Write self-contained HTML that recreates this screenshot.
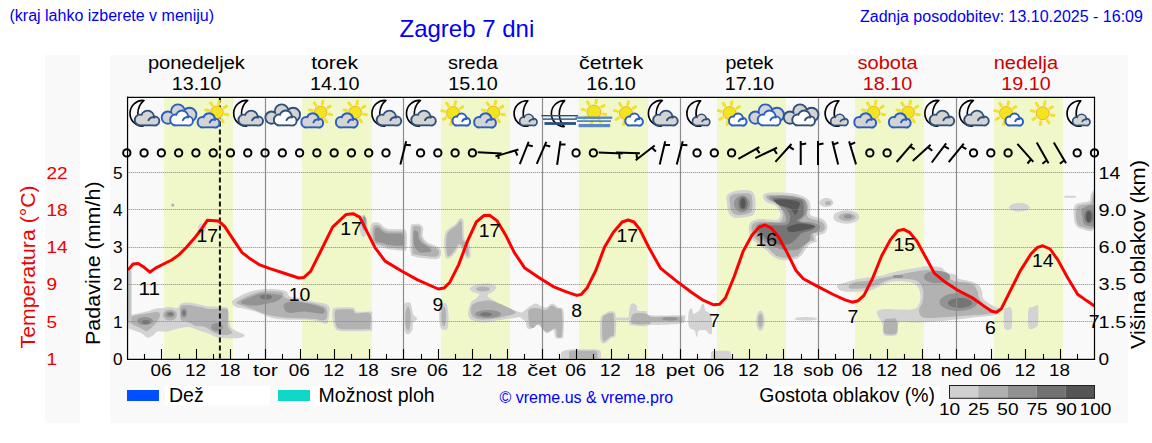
<!DOCTYPE html>
<html><head><meta charset="utf-8"><style>
html,body{margin:0;padding:0;background:#fff;width:1152px;height:443px;overflow:hidden}
svg{display:block}
text{font-family:"Liberation Sans", sans-serif}
</style></head><body>
<svg width="1152" height="443" viewBox="0 0 1152 443">
<rect x="45" y="55" width="35" height="368" fill="#f9f9f9"/>
<rect x="110" y="55" width="1018" height="368" fill="#f9f9f9"/>
<rect x="126" y="95.8" width="970.2" height="265.4" fill="#fff"/>
<rect x="129.3" y="99.1" width="963.5" height="258.6" fill="#f9f9fa"/>
<rect x="164" y="98.1" width="69" height="260.6" fill="#f0f7c8"/>
<rect x="302" y="98.1" width="70" height="260.6" fill="#f0f7c8"/>
<rect x="441" y="98.1" width="69" height="260.6" fill="#f0f7c8"/>
<rect x="579" y="98.1" width="69" height="260.6" fill="#f0f7c8"/>
<rect x="717" y="98.1" width="69" height="260.6" fill="#f0f7c8"/>
<rect x="855" y="98.1" width="69" height="260.6" fill="#f0f7c8"/>
<rect x="994" y="98.1" width="69" height="260.6" fill="#f0f7c8"/>
<defs><filter id="bl" x="-5%" y="-5%" width="110%" height="110%"><feGaussianBlur stdDeviation="0.7"/></filter><clipPath id="pc"><rect x="127.3" y="97" width="967.2" height="261.6"/></clipPath></defs><g filter="url(#bl)" clip-path="url(#pc)"><path d="M128.8 315.2C129.7 312.9 131.2 314.9 134.2 314.3C137.2 313.7 143.6 312.5 146.9 311.6C150.2 310.7 151.4 309.5 154.1 308.9C156.8 308.3 160.4 308.3 163.1 308.0C165.8 307.7 167.9 307.1 170.3 307.1C172.7 307.1 175.8 308.6 177.6 308.0C179.4 307.4 179.4 304.4 181.2 303.5C183.0 302.6 185.4 302.5 188.4 302.6C191.4 302.8 195.9 303.8 199.2 304.4C202.5 305.0 204.1 305.8 208.3 306.2C212.5 306.6 221.2 306.5 224.5 307.1C227.8 307.7 227.2 306.8 228.1 309.8C229.0 312.8 228.7 321.6 229.9 325.1C231.1 328.6 233.0 328.9 235.4 330.6C237.8 332.3 243.8 333.9 244.4 335.1C245.0 336.4 243.2 337.7 239.0 338.1C234.8 338.6 223.9 338.5 219.1 337.8C214.3 337.1 213.4 335.4 210.1 334.2C206.8 333.0 202.8 331.8 199.2 330.6C195.6 329.4 192.0 327.3 188.4 327.0C184.8 326.7 181.2 328.1 177.6 328.8C174.0 329.6 170.0 331.1 166.7 331.5C163.4 331.9 160.1 330.8 157.7 331.5C155.3 332.2 154.1 335.0 152.3 336.0C150.5 337.0 148.7 337.8 146.9 337.4C145.1 336.9 143.8 334.6 141.4 333.3C139.0 332.0 134.5 330.6 132.4 329.7C130.3 328.8 129.4 330.3 128.8 327.9C128.2 325.5 127.9 317.5 128.8 315.2Z" fill="#d3d3d3"/>
<path d="M128.8 318.0C130.2 316.8 133.5 315.8 137.0 315.0C140.5 314.2 146.5 313.5 150.0 313.0C153.5 312.5 156.3 311.5 158.0 312.0C159.7 312.5 160.3 314.2 160.0 316.0C159.7 317.8 157.7 320.8 156.0 323.0C154.3 325.2 151.7 327.7 150.0 329.0C148.3 330.3 147.7 331.2 146.0 331.0C144.3 330.8 142.3 329.2 140.0 328.0C137.7 326.8 133.9 325.0 132.0 324.0C130.1 323.0 129.3 323.0 128.8 322.0C128.3 321.0 127.4 319.2 128.8 318.0Z" fill="#b2b2b2"/>
<ellipse cx="170" cy="315" rx="7" ry="5.5" fill="#b2b2b2"/>
<path d="M181.0 306.0C182.3 304.8 184.8 304.8 188.0 305.0C191.2 305.2 196.3 306.3 200.0 307.0C203.7 307.7 205.7 308.7 210.0 309.0C214.3 309.3 223.0 308.3 226.0 309.0C229.0 309.7 227.7 310.2 228.0 313.0C228.3 315.8 227.3 322.7 228.0 326.0C228.7 329.3 232.7 331.5 232.0 333.0C231.3 334.5 226.8 335.0 224.0 335.0C221.2 335.0 218.2 334.3 215.0 333.0C211.8 331.7 208.2 328.2 205.0 327.0C201.8 325.8 198.8 326.8 196.0 326.0C193.2 325.2 190.5 323.0 188.0 322.0C185.5 321.0 182.3 321.7 181.0 320.0C179.7 318.3 180.0 314.3 180.0 312.0C180.0 309.7 179.7 307.2 181.0 306.0Z" fill="#b2b2b2"/>
<ellipse cx="145" cy="321" rx="8" ry="4" fill="#939393"/>
<ellipse cx="170" cy="314.5" rx="4.5" ry="3" fill="#939393"/>
<ellipse cx="184" cy="313" rx="3" ry="4.5" fill="#939393"/>
<ellipse cx="217" cy="327" rx="6" ry="4" fill="#939393"/>
<ellipse cx="146" cy="322" rx="4" ry="2" fill="#747474"/>
<ellipse cx="170.5" cy="314" rx="2.5" ry="1.5" fill="#747474"/>
<ellipse cx="184" cy="313" rx="1.5" ry="2.5" fill="#747474"/>
<ellipse cx="172.8" cy="205.1" rx="1.6" ry="1.6" fill="#b2b2b2"/>
<ellipse cx="202" cy="228" rx="4" ry="4.5" fill="#d3d3d3"/>
<rect x="128" y="270.5" width="3.5" height="52" fill="#c4c4c4"/>
<path d="M232.1 301.5C232.8 299.8 236.0 298.1 239.2 296.4C242.4 294.7 247.3 292.5 251.4 291.3C255.5 290.1 259.4 289.6 263.5 289.3C267.6 289.0 272.0 289.0 275.7 289.3C279.4 289.6 283.5 290.1 285.9 291.3C288.3 292.5 287.3 295.2 290.0 296.4C292.7 297.6 298.4 297.5 302.1 298.4C305.8 299.2 308.6 300.6 312.3 301.5C316.0 302.4 321.6 302.5 324.5 303.5C327.4 304.5 328.8 305.1 329.5 307.6C330.2 310.1 329.0 316.0 328.5 318.7C328.0 321.4 328.5 323.4 326.5 323.8C324.5 324.2 320.0 321.5 316.3 320.8C312.6 320.1 308.9 319.9 304.2 319.7C299.5 319.5 292.6 319.9 287.9 319.7C283.1 319.5 279.4 319.4 275.7 318.7C272.0 318.0 269.0 316.9 265.6 315.7C262.2 314.5 259.1 312.8 255.4 311.6C251.7 310.4 246.6 309.5 243.2 308.6C239.8 307.8 236.9 307.7 235.1 306.5C233.2 305.3 231.4 303.2 232.1 301.5Z" fill="#d3d3d3"/>
<path d="M237.2 301.5C239.2 299.8 246.7 296.1 251.4 294.4C256.1 292.7 260.5 291.6 265.6 291.3C270.7 291.0 278.6 291.3 281.8 292.3C285.0 293.3 282.2 296.0 284.9 297.4C287.6 298.8 292.5 299.3 298.1 300.5C303.7 301.7 313.7 303.1 318.4 304.5C323.1 305.9 325.3 306.1 326.5 308.6C327.7 311.1 327.9 318.0 325.5 319.7C323.1 321.4 318.6 319.0 312.3 318.7C306.0 318.4 295.3 318.4 287.9 317.7C280.4 317.0 273.7 316.2 267.6 314.7C261.5 313.2 256.1 310.3 251.4 308.6C246.7 306.9 241.6 305.7 239.2 304.5C236.8 303.3 235.2 303.2 237.2 301.5Z" fill="#b2b2b2"/>
<path d="M241.2 301.5C243.2 299.8 253.1 295.8 257.5 294.4C261.9 293.0 263.6 293.2 267.6 293.4C271.7 293.6 280.1 294.2 281.8 295.4C283.5 296.6 280.2 299.1 277.8 300.5C275.4 301.9 271.3 302.7 267.6 303.5C263.9 304.3 259.1 305.3 255.4 305.5C251.7 305.7 247.7 305.2 245.3 304.5C242.9 303.8 239.2 303.2 241.2 301.5Z" fill="#939393"/>
<path d="M283.9 304.5C284.9 302.6 289.3 301.5 294.0 301.5C298.7 301.5 307.4 303.3 312.3 304.5C317.2 305.7 321.7 307.1 323.4 308.6C325.1 310.1 325.6 313.2 322.4 313.7C319.2 314.2 309.9 311.8 304.2 311.6C298.4 311.4 291.3 313.8 287.9 312.6C284.5 311.4 282.9 306.4 283.9 304.5Z" fill="#939393"/>
<ellipse cx="266" cy="297" rx="6" ry="2.5" fill="#747474"/>
<path d="M332.6 309.6C333.5 307.8 334.3 307.9 337.7 307.6C341.1 307.3 349.7 306.9 352.9 307.6C356.1 308.3 353.9 310.9 357.0 311.6C360.1 312.3 368.7 311.1 371.2 311.6C373.7 312.1 372.0 312.0 372.2 314.7C372.4 317.4 372.7 325.2 372.2 327.9C371.7 330.6 374.4 330.4 369.1 330.9C363.9 331.4 346.4 331.6 340.7 330.9C334.9 330.2 336.0 328.9 334.6 326.9C333.2 324.9 332.9 321.6 332.6 318.7C332.3 315.8 331.8 311.5 332.6 309.6Z" fill="#d3d3d3"/>
<path d="M335.0 311.5C335.6 310.0 335.7 309.9 338.5 309.6C341.3 309.3 349.1 309.0 352.0 309.6C354.9 310.2 353.0 312.9 356.0 313.5C359.0 314.1 367.6 311.2 370.0 313.5C372.4 315.8 370.6 324.4 370.3 327.0C370.0 329.6 372.8 328.7 368.0 329.0C363.2 329.3 346.8 329.5 341.5 329.0C336.2 328.5 337.6 327.7 336.5 326.0C335.4 324.3 335.2 321.1 335.0 318.7C334.8 316.3 334.4 313.0 335.0 311.5Z" fill="#b2b2b2"/>
<ellipse cx="363.5" cy="226" rx="4" ry="11.3" fill="#d3d3d3"/>
<ellipse cx="364" cy="223" rx="2.5" ry="7.5" fill="#b2b2b2"/>
<ellipse cx="364.3" cy="222" rx="1.4" ry="5" fill="#939393"/>
<path d="M371.0 225.2C372.2 221.9 375.9 222.2 378.1 222.6C380.3 222.9 382.2 226.2 384.2 227.3C386.2 228.4 387.2 229.0 390.3 229.3C393.4 229.6 399.8 228.8 402.5 229.3C405.2 229.8 405.8 229.1 406.5 232.3C407.2 235.5 407.0 245.6 406.5 248.6C406.0 251.6 406.2 250.4 403.5 250.6C400.8 250.8 393.9 250.1 390.3 249.6C386.8 249.1 384.9 248.3 382.2 247.6C379.5 246.9 376.0 246.3 374.1 245.5C372.2 244.7 371.5 245.9 371.0 242.5C370.5 239.1 369.8 228.5 371.0 225.2Z" fill="#d3d3d3"/>
<path d="M373.0 227.5C373.8 224.8 376.2 224.7 378.0 225.0C379.8 225.3 381.5 228.4 383.5 229.5C385.5 230.6 386.9 231.2 390.0 231.5C393.1 231.8 399.6 231.2 402.0 231.5C404.4 231.8 404.1 230.9 404.5 233.5C404.9 236.1 404.8 244.5 404.5 247.0C404.2 249.5 404.9 248.4 402.5 248.5C400.1 248.6 393.3 248.0 390.0 247.5C386.7 247.0 385.0 246.2 382.5 245.5C380.0 244.8 376.6 244.2 375.0 243.5C373.4 242.8 373.3 243.7 373.0 241.0C372.7 238.3 372.2 230.2 373.0 227.5Z" fill="#b2b2b2"/>
<path d="M375.0 229.5C375.5 227.6 376.7 227.2 378.0 227.5C379.3 227.8 381.2 230.5 383.0 231.5C384.8 232.5 386.0 233.2 389.0 233.5C392.0 233.8 398.8 233.2 401.0 233.5C403.2 233.8 402.2 233.1 402.5 235.0C402.8 236.9 404.6 243.3 402.5 245.0C400.4 246.7 393.3 245.3 390.0 245.0C386.7 244.7 384.8 243.6 382.5 243.0C380.2 242.4 377.2 242.2 376.0 241.5C374.8 240.8 375.2 241.0 375.0 239.0C374.8 237.0 374.5 231.4 375.0 229.5Z" fill="#939393"/>
<path d="M410.6 227.3C411.1 222.6 412.2 224.7 413.7 224.2C415.2 223.7 418.1 223.5 419.7 224.2C421.3 224.9 422.7 226.3 423.2 228.3C423.7 230.3 422.0 234.0 422.8 236.4C423.6 238.8 425.2 240.6 427.9 242.5C430.6 244.4 436.8 245.7 439.0 247.6C441.2 249.5 441.3 251.8 441.1 253.7C440.9 255.5 440.0 257.9 438.0 258.7C436.0 259.5 432.8 259.0 428.9 258.7C425.0 258.4 417.8 257.7 414.7 256.7C411.6 255.7 411.3 257.5 410.6 252.6C409.9 247.7 410.1 232.0 410.6 227.3Z" fill="#d3d3d3"/>
<path d="M412.6 228.5C412.9 224.3 413.4 226.7 414.5 226.3C415.6 225.9 417.9 225.9 419.0 226.3C420.1 226.8 420.7 227.2 421.0 229.0C421.3 230.8 419.9 234.5 420.8 237.0C421.7 239.5 423.7 242.0 426.5 244.0C429.3 246.0 435.4 247.4 437.5 249.0C439.6 250.6 439.2 252.4 439.0 253.7C438.8 254.9 438.2 256.0 436.5 256.5C434.8 257.0 432.5 256.8 429.0 256.5C425.5 256.2 418.2 255.3 415.5 254.5C412.8 253.7 413.1 255.8 412.6 251.5C412.1 247.2 412.3 232.7 412.6 228.5Z" fill="#b2b2b2"/>
<path d="M413.7 231.3C414.4 229.6 417.0 230.5 418.0 232.0C419.0 233.5 417.9 237.9 419.7 240.5C421.5 243.1 427.0 245.8 428.9 247.6C430.8 249.4 432.2 250.8 430.9 251.6C429.5 252.4 423.3 253.1 420.8 252.6C418.3 252.1 416.9 250.3 415.7 248.6C414.5 246.9 414.0 245.4 413.7 242.5C413.4 239.6 413.0 233.1 413.7 231.3Z" fill="#939393"/>
<path d="M445.1 233.4C446.8 228.2 452.9 226.6 455.3 224.2C457.7 221.8 458.0 219.8 459.3 219.1C460.6 218.4 462.5 217.0 463.4 220.2C464.2 223.4 463.4 234.5 464.4 238.4C465.4 242.3 468.5 240.4 469.5 243.5C470.5 246.6 471.0 254.3 470.5 256.7C470.0 259.1 467.8 258.7 466.4 257.7C465.0 256.7 463.6 252.5 462.4 250.6C461.2 248.7 460.5 246.2 459.3 246.5C458.1 246.8 456.8 250.7 455.3 252.6C453.8 254.5 451.9 257.2 450.2 257.7C448.5 258.2 446.0 259.8 445.1 255.7C444.2 251.6 443.4 238.7 445.1 233.4Z" fill="#d3d3d3"/>
<path d="M447.0 234.5C448.6 229.8 454.4 227.7 456.5 225.5C458.6 223.3 458.6 222.0 459.5 221.5C460.4 221.0 461.3 219.6 461.8 222.5C462.3 225.4 461.5 235.3 462.5 239.0C463.5 242.7 466.8 241.8 467.8 244.5C468.8 247.2 468.7 253.2 468.5 255.0C468.3 256.8 467.6 256.5 466.8 255.5C466.0 254.5 464.8 250.9 463.5 249.0C462.2 247.1 460.8 243.8 459.3 244.0C457.8 244.2 456.1 248.6 454.5 250.5C452.9 252.4 451.2 254.9 450.0 255.5C448.8 256.1 447.5 257.5 447.0 254.0C446.5 250.5 445.4 239.2 447.0 234.5Z" fill="#b2b2b2"/>
<path d="M404.3 305.3C404.8 301.6 405.9 302.9 407.0 302.6C408.1 302.3 409.6 301.6 410.6 303.5C411.7 305.4 412.2 311.8 413.3 314.3C414.4 316.9 417.3 317.5 417.3 318.8C417.3 320.1 414.1 320.6 413.3 322.4C412.5 324.2 413.1 327.7 412.4 329.7C411.6 331.7 410.0 333.8 408.8 334.2C407.6 334.6 405.9 333.9 405.2 332.4C404.4 330.9 404.4 329.6 404.3 325.1C404.2 320.6 403.9 309.1 404.3 305.3Z" fill="#d3d3d3"/>
<ellipse cx="408" cy="318.5" rx="2.8" ry="12" fill="#b2b2b2"/>
<path d="M439.5 305.3C439.9 302.3 441.0 303.6 442.2 303.5C443.4 303.4 445.6 302.3 446.7 304.4C447.8 306.5 448.4 312.2 448.6 316.1C448.8 320.0 448.3 325.6 447.7 327.9C447.1 330.2 446.0 329.5 444.9 329.7C443.8 329.9 442.2 330.2 441.3 328.8C440.4 327.4 439.8 325.4 439.5 321.5C439.2 317.6 439.1 308.3 439.5 305.3Z" fill="#d3d3d3"/>
<ellipse cx="443.7" cy="316.5" rx="2.5" ry="10" fill="#b2b2b2"/>
<path d="M470.0 288.0C470.8 286.8 473.8 285.2 477.0 284.5C480.2 283.8 485.8 283.2 489.0 283.6C492.2 284.1 495.8 285.9 496.4 287.2C497.0 288.5 494.2 290.5 492.8 291.7C491.4 292.9 488.6 293.4 488.0 294.4C487.4 295.4 487.6 296.3 489.0 297.5C490.4 298.7 492.8 299.8 496.4 301.7C500.0 303.6 506.4 306.9 510.9 308.9C515.4 310.8 521.2 312.2 523.5 313.4C525.8 314.6 525.9 315.4 524.4 316.1C522.9 316.9 519.2 317.1 514.5 317.9C509.8 318.6 501.2 319.9 496.4 320.6C491.6 321.4 488.9 322.2 485.6 322.4C482.3 322.5 479.2 322.2 476.5 321.5C473.8 320.8 470.7 319.5 469.3 317.9C467.9 316.2 468.1 314.2 468.4 311.6C468.7 309.0 469.8 304.2 471.1 302.0C472.4 299.8 474.7 299.8 476.0 298.5C477.3 297.2 479.7 295.6 479.0 294.4C478.3 293.2 473.5 292.6 472.0 291.5C470.5 290.4 469.2 289.2 470.0 288.0Z" fill="#d3d3d3"/>
<path d="M472.0 305.0C473.5 303.1 477.0 302.2 480.0 301.5C483.0 300.8 486.7 300.1 490.0 300.5C493.3 300.9 496.3 302.5 500.0 304.0C503.7 305.5 509.5 307.9 512.0 309.5C514.5 311.1 517.0 312.2 515.0 313.5C513.0 314.8 504.8 316.5 500.0 317.5C495.2 318.5 490.2 319.4 486.0 319.5C481.8 319.6 477.5 319.1 475.0 318.0C472.5 316.9 471.5 315.2 471.0 313.0C470.5 310.8 470.5 306.9 472.0 305.0Z" fill="#b2b2b2"/>
<ellipse cx="482.9" cy="289" rx="7" ry="2.5" fill="#b2b2b2"/>
<ellipse cx="488" cy="314" rx="13" ry="4" fill="#939393"/>
<ellipse cx="486" cy="314.3" rx="6" ry="2" fill="#747474"/>
<path d="M520.0 314.5C520.6 313.2 523.1 311.8 524.7 310.5C526.3 309.2 527.6 307.8 529.5 306.6C531.4 305.4 534.0 303.5 535.8 303.4C537.6 303.3 538.8 305.1 540.5 305.8C542.2 306.5 544.1 307.8 546.1 307.4C548.1 307.0 550.4 303.4 552.4 303.4C554.4 303.4 556.1 306.2 557.9 307.4C559.7 308.6 562.5 305.8 563.4 310.5C564.3 315.2 563.9 331.2 563.4 335.8C562.9 340.4 561.6 337.9 560.3 338.2C559.0 338.5 556.5 338.7 555.5 337.4C554.5 336.1 554.6 331.4 554.0 330.3C553.4 329.2 552.8 330.6 551.6 331.1C550.4 331.6 548.5 333.8 546.9 333.4C545.3 333.0 543.7 330.1 542.1 328.7C540.5 327.3 539.1 324.8 537.4 324.8C535.7 324.8 533.5 328.2 531.8 328.7C530.1 329.2 528.1 329.1 527.1 327.9C526.1 326.7 526.5 323.2 525.5 321.6C524.5 320.0 521.9 319.2 521.0 318.0C520.1 316.8 519.4 315.8 520.0 314.5Z" fill="#d3d3d3"/>
<path d="M528.7 309.7C529.9 308.0 533.8 308.1 535.8 308.0C537.8 307.9 539.3 308.7 541.0 309.0C542.7 309.3 544.2 310.5 546.0 310.0C547.8 309.5 549.8 306.1 551.6 305.8C553.4 305.6 555.3 307.6 557.0 308.5C558.7 309.4 561.1 306.9 561.9 311.3C562.7 315.7 562.7 330.8 561.9 335.0C561.1 339.2 558.2 337.7 557.1 336.6C556.0 335.6 557.3 329.5 555.5 328.7C553.7 327.9 548.9 332.7 546.1 331.9C543.4 331.1 541.1 324.7 539.0 324.0C536.9 323.3 535.0 327.5 533.4 327.9C531.8 328.3 530.3 327.9 529.5 326.3C528.7 324.7 528.6 320.8 528.5 318.0C528.4 315.2 527.5 311.4 528.7 309.7Z" fill="#b2b2b2"/>
<path d="M561 359L561.1 352.4Q563 350 572.1 349.2L595.8 349.2Q600.6 350 601 352L601 359Z" fill="#d3d3d3"/>
<path d="M569 359L569 352Q570 350.8 572 350.8L595 350.8Q597.4 351.5 597.4 353L597.4 359Z" fill="#b2b2b2"/>
<path d="M600.6 318.4C601.5 313.8 604.4 314.1 606.1 312.9C607.8 311.7 609.2 311.0 610.8 311.3C612.4 311.6 614.8 310.6 615.6 314.5C616.4 318.4 616.4 331.1 615.6 335.0C614.8 338.9 612.5 336.9 610.8 338.2C609.1 339.5 607.0 342.5 605.3 342.9C603.6 343.3 601.4 344.7 600.6 340.6C599.8 336.5 599.7 323.0 600.6 318.4Z" fill="#d3d3d3"/>
<path d="M602.5 319.0C603.2 314.9 605.2 315.5 606.5 314.5C607.8 313.5 609.3 313.0 610.5 313.2C611.7 313.4 613.2 312.0 613.8 315.5C614.3 319.0 614.4 330.5 613.8 334.0C613.2 337.5 611.7 335.4 610.3 336.5C608.9 337.6 606.8 340.1 605.5 340.5C604.2 340.9 603.0 342.6 602.5 339.0C602.0 335.4 601.8 323.1 602.5 319.0Z" fill="#b2b2b2"/>
<rect x="614" y="317.6" width="17" height="2.8" fill="#d3d3d3"/>
<path d="M629.0 313.7C629.3 310.7 629.8 306.7 630.6 305.0C631.4 303.3 632.7 303.3 633.7 303.4C634.8 303.5 636.2 304.6 636.9 305.8C637.6 307.0 636.1 309.6 637.7 310.5C639.3 311.4 644.2 310.5 646.4 311.3C648.6 312.1 645.1 314.6 651.1 315.3C657.1 316.0 677.0 314.9 682.6 315.3C688.2 315.8 685.0 316.7 685.0 318.0C685.0 319.3 686.4 322.1 682.6 323.2C678.8 324.3 667.5 324.5 662.2 324.8C657.0 325.1 654.0 324.6 651.1 324.8C648.2 325.1 647.7 326.2 644.8 326.3C641.9 326.4 636.3 326.0 633.7 325.5C631.1 325.0 629.8 325.2 629.0 323.2C628.2 321.2 628.7 316.7 629.0 313.7Z" fill="#d3d3d3"/>
<path d="M633.7 313.7C636.0 312.6 642.4 313.1 645.0 313.5C647.6 313.9 648.2 315.4 649.5 316.0C650.8 316.6 647.6 316.8 652.7 316.9C657.8 317.0 675.1 316.5 680.0 316.9C684.9 317.2 682.0 318.2 682.0 319.0C682.0 319.8 684.9 321.2 680.0 321.6C675.1 322.0 657.8 321.2 652.7 321.6C647.6 322.0 652.7 323.6 649.5 324.0C646.3 324.4 636.8 324.7 633.7 324.0C630.6 323.3 631.0 321.7 631.0 320.0C631.0 318.3 631.4 314.8 633.7 313.7Z" fill="#b2b2b2"/>
<ellipse cx="670" cy="318.8" rx="8" ry="1.8" fill="#939393"/>
<path d="M689.0 310.5C689.6 308.4 691.3 308.5 692.1 309.0C692.9 309.5 692.5 313.4 693.7 313.7C694.9 313.9 697.9 311.9 699.2 310.5C700.5 309.1 700.8 306.1 701.6 305.0C702.4 303.9 703.4 303.3 704.0 304.2C704.6 305.1 704.3 308.6 705.5 310.5C706.7 312.4 710.0 311.6 711.1 315.3C712.2 319.0 712.3 329.7 711.9 332.7C711.5 335.7 709.8 333.8 708.7 333.4C707.6 333.0 707.2 330.7 705.5 330.3C703.8 329.9 699.7 330.1 698.4 331.1C697.1 332.2 698.0 335.8 697.6 336.6C697.2 337.4 696.6 336.9 696.1 335.8C695.6 334.8 695.6 331.6 694.5 330.3C693.4 329.0 690.8 329.3 689.7 327.9C688.7 326.4 688.3 324.5 688.2 321.6C688.1 318.7 688.4 312.6 689.0 310.5Z" fill="#d3d3d3"/>
<ellipse cx="760.4" cy="320.8" rx="4.3" ry="10.3" fill="#d3d3d3"/>
<ellipse cx="760.4" cy="320.8" rx="2.5" ry="7" fill="#b2b2b2"/>
<path d="M711 359L711.1 352.4Q712 350.8 715 350.8L728.5 350.8Q730.8 351 731 353L731 359Z" fill="#d3d3d3"/>
<ellipse cx="806" cy="318.8" rx="11.5" ry="1.8" fill="#d3d3d3"/>
<path d="M727.1 195.3C728.6 193.2 732.2 191.6 736.1 190.8C740.0 190.1 747.4 189.6 750.6 190.8C753.8 192.0 754.4 194.8 755.1 198.1C755.9 201.4 755.9 207.7 755.1 210.7C754.4 213.7 753.8 214.9 750.6 216.1C747.4 217.3 739.7 218.3 736.1 217.9C732.5 217.5 730.4 215.8 728.9 213.4C727.4 211.0 727.4 206.5 727.1 203.5C726.8 200.5 725.6 197.4 727.1 195.3Z" fill="#d3d3d3"/>
<path d="M730.0 196.5C731.2 194.9 733.8 194.2 737.0 193.8C740.2 193.4 747.0 192.9 749.5 193.8C752.0 194.7 751.8 196.4 752.2 199.0C752.7 201.6 752.7 207.1 752.2 209.5C751.7 211.9 751.5 212.3 749.0 213.2C746.5 214.1 739.9 215.3 737.0 215.0C734.1 214.7 732.7 213.4 731.5 211.5C730.3 209.6 730.2 206.0 730.0 203.5C729.8 201.0 728.8 198.1 730.0 196.5Z" fill="#b2b2b2"/>
<ellipse cx="742" cy="204" rx="8" ry="8.5" fill="#939393"/>
<ellipse cx="743" cy="203.5" rx="4.5" ry="7" fill="#747474"/>
<ellipse cx="743" cy="203.5" rx="2.5" ry="5" fill="#575757"/>
<path d="M764.0 194.0C765.4 193.0 768.2 192.7 772.0 192.5C775.8 192.3 782.2 192.3 787.0 192.8C791.8 193.3 797.4 194.3 801.0 195.5C804.6 196.7 806.8 198.2 808.4 199.9C810.0 201.7 810.1 203.5 810.5 206.0C810.9 208.5 808.5 212.8 810.5 215.0C812.5 217.2 820.0 217.4 822.8 219.2C825.6 221.0 827.0 223.7 827.3 226.0C827.6 228.3 826.5 231.6 824.6 233.3C822.7 235.0 817.4 234.7 816.0 236.0C814.6 237.3 817.5 240.1 816.5 241.4C815.5 242.8 812.2 242.6 810.2 244.1C808.2 245.6 806.2 248.4 804.7 250.4C803.2 252.4 802.9 254.3 801.1 255.8C799.3 257.3 797.2 258.8 793.9 259.5C790.6 260.2 784.9 260.6 781.3 260.0C777.7 259.4 774.6 257.4 772.2 255.8C769.8 254.2 770.1 253.1 766.8 250.4C763.5 247.7 755.4 243.2 752.4 239.6C749.4 236.0 748.9 231.8 748.8 228.8C748.6 225.8 749.6 223.1 751.5 221.5C753.4 219.9 756.9 219.3 760.0 219.0C763.1 218.7 767.0 219.4 770.0 219.5C773.0 219.6 776.2 220.4 778.0 219.5C779.8 218.6 780.8 216.2 780.5 214.0C780.2 211.8 778.2 207.9 776.0 206.0C773.8 204.1 769.1 203.8 767.0 202.5C764.9 201.2 764.0 199.9 763.5 198.5C763.0 197.1 762.6 195.0 764.0 194.0Z" fill="#d3d3d3"/>
<path d="M766.0 196.0C766.5 195.1 768.5 195.1 772.0 195.0C775.5 194.9 782.3 194.8 787.0 195.3C791.7 195.8 796.8 196.8 800.0 197.8C803.2 198.8 804.7 200.1 806.0 201.5C807.3 202.9 807.7 203.9 808.0 206.5C808.3 209.1 805.8 214.5 808.0 217.0C810.2 219.5 818.2 219.9 821.0 221.5C823.8 223.1 824.5 224.9 824.8 226.5C825.1 228.1 824.5 230.1 822.6 231.3C820.7 232.5 814.9 232.4 813.5 233.8C812.1 235.2 814.8 238.6 814.0 240.0C813.2 241.4 810.4 240.5 808.5 242.0C806.6 243.5 804.2 246.8 802.7 248.8C801.2 250.8 800.9 252.4 799.3 253.8C797.7 255.2 796.1 256.4 793.2 257.0C790.3 257.6 785.2 258.0 782.0 257.5C778.8 257.0 776.0 255.3 773.8 253.8C771.5 252.3 771.6 251.1 768.5 248.5C765.4 245.9 757.8 241.6 755.0 238.3C752.2 235.1 751.8 231.5 751.5 229.0C751.2 226.5 752.0 224.8 753.5 223.5C755.0 222.2 757.8 221.8 760.5 221.5C763.2 221.2 766.8 221.9 770.0 222.0C773.2 222.1 777.8 223.3 780.0 222.0C782.2 220.7 783.3 216.9 783.0 214.0C782.7 211.1 780.3 206.8 778.0 204.5C775.7 202.2 771.0 201.9 769.0 200.5C767.0 199.1 765.5 196.9 766.0 196.0Z" fill="#b2b2b2"/>
<path d="M770.0 196.5C772.8 195.8 782.7 195.7 788.0 196.0C793.3 196.3 799.0 197.3 802.0 198.5C805.0 199.7 805.3 200.4 806.0 203.0C806.7 205.6 807.0 211.0 806.0 214.0C805.0 217.0 799.0 219.6 800.0 221.0C801.0 222.4 808.7 221.7 812.0 222.5C815.3 223.3 819.0 224.6 820.0 226.0C821.0 227.4 819.5 229.7 818.0 231.0C816.5 232.3 812.3 232.5 811.0 234.0C809.7 235.5 811.5 237.9 810.0 240.0C808.5 242.1 804.3 244.8 802.0 246.5C799.7 248.2 798.8 249.4 796.0 250.0C793.2 250.6 788.5 250.5 785.0 250.0C781.5 249.5 778.7 248.7 775.0 247.0C771.3 245.3 766.2 242.5 763.0 240.0C759.8 237.5 757.0 234.5 756.0 232.0C755.0 229.5 755.0 226.6 757.0 225.0C759.0 223.4 763.3 223.0 768.0 222.5C772.7 222.0 782.3 223.8 785.0 222.0C787.7 220.2 785.3 215.0 784.0 212.0C782.7 209.0 779.2 206.0 777.0 204.0C774.8 202.0 772.2 201.2 771.0 200.0C769.8 198.8 767.2 197.2 770.0 196.5Z" fill="#939393"/>
<path d="M773.0 198.5C774.8 197.7 783.3 198.2 788.0 198.5C792.7 198.8 798.4 198.9 801.0 200.0C803.6 201.1 803.2 202.4 803.5 205.0C803.8 207.6 804.1 212.8 803.0 215.5C801.9 218.2 795.8 219.6 797.0 221.0C798.2 222.4 806.9 223.1 810.0 224.0C813.1 224.9 815.2 225.5 815.5 226.5C815.8 227.5 814.2 228.9 812.0 230.0C809.8 231.1 804.5 231.7 802.0 233.0C799.5 234.3 799.0 236.2 797.0 238.0C795.0 239.8 792.8 242.3 790.0 243.5C787.2 244.7 783.7 245.6 780.0 245.0C776.3 244.4 771.3 242.0 768.0 240.0C764.7 238.0 761.3 235.0 760.0 233.0C758.7 231.0 758.3 229.2 760.0 228.0C761.7 226.8 765.5 226.1 770.0 225.5C774.5 224.9 783.7 226.1 787.0 224.5C790.3 222.9 790.3 218.8 790.0 216.0C789.7 213.2 787.2 210.1 785.0 208.0C782.8 205.9 779.0 205.1 777.0 203.5C775.0 201.9 771.2 199.3 773.0 198.5Z" fill="#747474"/>
<path d="M774.8 200.3C776.0 199.4 782.4 199.1 786.5 199.4C790.6 199.7 797.2 200.7 799.2 202.2C801.2 203.7 798.9 206.4 798.3 208.5C797.7 210.6 797.0 214.8 795.6 214.8C794.2 214.8 792.8 210.2 790.1 208.5C787.4 206.8 781.8 206.3 779.3 204.9C776.8 203.5 773.6 201.2 774.8 200.3Z" fill="#575757"/>
<path d="M787.4 227.4C788.9 226.0 794.8 224.1 799.2 223.8C803.6 223.5 811.5 224.8 813.6 225.6C815.7 226.3 814.2 227.4 811.8 228.3C809.4 229.2 802.8 230.4 799.2 231.0C795.6 231.6 792.1 232.6 790.1 232.0C788.1 231.4 785.9 228.8 787.4 227.4Z" fill="#575757"/>
<ellipse cx="787" cy="255" rx="12" ry="2" fill="#b2b2b2"/>
<ellipse cx="826.4" cy="202.6" rx="7" ry="4.5" fill="#d3d3d3"/>
<ellipse cx="828" cy="203" rx="3" ry="2" fill="#b2b2b2"/>
<ellipse cx="846.3" cy="217" rx="13" ry="6.8" fill="#d3d3d3"/>
<ellipse cx="847" cy="217" rx="8.5" ry="4" fill="#b2b2b2"/>
<ellipse cx="848" cy="216.5" rx="4" ry="2" fill="#939393"/>
<path d="M837.2 285.6C837.9 284.2 842.3 283.6 845.3 282.6C848.3 281.6 851.7 280.4 855.4 279.5C859.1 278.6 863.2 278.2 867.6 277.5C872.0 276.8 877.7 276.4 881.8 275.5C885.9 274.6 887.9 273.4 892.0 272.4C896.1 271.4 901.5 270.2 906.2 269.4C910.9 268.5 916.6 267.8 920.0 267.3C923.4 266.8 923.0 266.2 926.4 266.2C929.8 266.2 937.2 266.3 940.6 267.3C944.0 268.3 944.0 271.0 946.7 272.3C949.4 273.6 955.0 274.4 956.9 275.4C958.8 276.4 955.5 277.4 957.9 278.4C960.3 279.4 967.5 280.3 971.1 281.5C974.7 282.7 977.4 283.6 979.2 285.5C981.1 287.4 981.5 290.4 982.2 292.6C982.9 294.8 981.7 296.7 983.2 298.7C984.7 300.7 988.7 303.1 991.4 304.8C994.1 306.5 998.5 307.4 999.5 308.9C1000.5 310.4 999.2 312.8 997.5 314.0C995.8 315.2 992.7 315.5 989.3 316.0C985.9 316.5 981.9 316.5 977.2 317.0C972.5 317.5 967.0 318.3 960.9 319.0C954.8 319.7 946.8 320.6 940.6 321.1C934.5 321.7 928.8 322.1 924.0 322.3C919.2 322.5 916.0 322.6 912.0 322.5C908.0 322.4 902.4 321.2 900.0 322.0C897.6 322.8 898.1 324.8 897.5 327.0C896.9 329.2 898.8 333.7 896.5 335.0C894.2 336.3 886.1 336.7 883.9 335.0C881.6 333.3 883.9 328.0 883.0 325.0C882.1 322.0 879.5 319.2 878.5 317.0C877.5 314.8 875.9 312.8 877.0 311.5C878.1 310.2 881.2 309.3 885.0 309.0C888.8 308.7 895.2 309.5 900.0 309.5C904.8 309.5 910.8 310.1 914.0 309.0C917.2 307.9 918.5 305.8 919.5 303.0C920.5 300.2 920.8 295.2 920.0 292.0C919.2 288.8 917.5 285.8 915.0 284.0C912.5 282.2 909.2 281.8 905.0 281.5C900.8 281.2 894.2 281.2 890.0 282.0C885.8 282.8 883.4 284.6 880.0 286.0C876.6 287.4 874.0 289.8 869.6 290.7C865.2 291.6 858.1 291.7 853.4 291.7C848.7 291.7 843.9 291.7 841.2 290.7C838.5 289.7 836.5 287.0 837.2 285.6Z" fill="#d3d3d3"/>
<path d="M849.3 285.6C850.1 284.5 852.6 282.9 856.0 282.0C859.4 281.1 864.8 281.2 869.6 280.5C874.4 279.8 879.9 278.5 885.0 277.5C890.1 276.5 893.4 275.7 900.0 274.5C906.6 273.3 917.6 270.8 924.4 270.3C931.2 269.8 935.9 269.6 940.6 271.3C945.3 273.0 947.7 278.5 952.8 280.5C957.9 282.5 967.0 281.8 971.1 283.5C975.2 285.2 975.9 288.1 977.2 290.6C978.6 293.1 977.5 296.0 979.2 298.7C980.9 301.4 984.6 304.9 987.3 306.9C990.0 308.9 995.4 309.7 995.4 310.9C995.4 312.1 993.0 313.1 987.3 314.0C981.5 314.9 970.4 315.3 960.9 316.0C951.4 316.7 937.1 317.9 930.5 318.0C923.9 318.1 923.4 317.8 921.5 316.5C919.6 315.2 918.8 312.4 919.0 310.0C919.2 307.6 921.8 305.3 922.5 302.0C923.2 298.7 923.8 293.4 923.0 290.0C922.2 286.6 921.0 283.4 918.0 281.5C915.0 279.6 909.7 279.1 905.0 278.8C900.3 278.5 895.9 278.1 890.0 279.5C884.1 280.9 876.0 286.0 869.6 287.5C863.2 289.0 854.8 289.0 851.4 288.7C848.0 288.4 848.5 286.7 849.3 285.6Z" fill="#b2b2b2"/>
<path d="M884.5 320.5C885.4 318.1 888.0 319.0 890.0 318.8C892.0 318.6 895.4 317.1 896.5 319.5C897.6 321.9 898.5 330.8 896.5 333.0C894.5 335.2 886.5 335.1 884.5 333.0C882.5 330.9 883.6 322.9 884.5 320.5Z" fill="#b2b2b2"/>
<ellipse cx="937" cy="277" rx="13" ry="6" fill="#939393"/>
<ellipse cx="898.1" cy="276.5" rx="5" ry="1.5" fill="#939393"/>
<ellipse cx="958.5" cy="302" rx="19" ry="9" fill="#939393"/>
<ellipse cx="937" cy="277" rx="13" ry="6" fill="#939393"/>
<ellipse cx="898.1" cy="276.5" rx="5" ry="1.5" fill="#939393"/>
<ellipse cx="960" cy="303" rx="12" ry="5" fill="#747474"/>
<path d="M1004.0 310.6C1004.5 307.6 1006.1 308.6 1007.0 308.0C1007.9 307.4 1008.8 306.5 1009.6 306.9C1010.4 307.3 1011.5 307.4 1011.9 310.6C1012.3 313.8 1012.3 322.8 1011.9 326.0C1011.5 329.2 1010.5 329.0 1009.5 329.6C1008.5 330.2 1006.9 330.2 1006.0 329.6C1005.1 329.0 1004.3 329.2 1004.0 326.0C1003.7 322.8 1003.5 313.6 1004.0 310.6Z" fill="#d3d3d3"/>
<path d="M1028.5 309.6C1029.2 306.2 1031.5 307.8 1033.0 307.0C1034.5 306.2 1036.5 304.8 1037.4 305.0C1038.3 305.2 1038.2 304.8 1038.3 308.0C1038.4 311.2 1038.5 321.1 1037.8 324.4C1037.1 327.7 1035.0 327.2 1034.0 328.0C1033.0 328.8 1032.8 329.1 1031.9 329.0C1031.0 328.9 1029.1 330.4 1028.5 327.2C1027.9 324.0 1027.8 313.0 1028.5 309.6Z" fill="#d3d3d3"/>
<ellipse cx="1019.4" cy="207.3" rx="10.2" ry="4.3" fill="#d3d3d3"/>
<rect x="1064.5" y="195.8" width="11.2" height="2" fill="#d3d3d3"/>
<path d="M1074.4 206.1C1075.3 203.9 1076.9 203.8 1079.4 203.0C1081.9 202.2 1087.4 202.4 1089.3 201.1C1091.2 199.8 1089.9 196.8 1090.6 194.9C1091.3 193.1 1093.1 190.8 1093.7 190.0C1094.3 189.2 1094.3 183.7 1094.4 190.0C1094.5 196.3 1096.5 221.5 1094.4 228.0C1092.3 234.5 1085.0 229.7 1081.9 229.1C1078.8 228.5 1077.1 226.9 1075.7 224.7C1074.3 222.5 1074.0 219.1 1073.8 216.0C1073.6 212.9 1073.5 208.3 1074.4 206.1Z" fill="#d3d3d3"/>
<path d="M1077.0 207.5C1077.8 205.7 1078.8 205.7 1081.0 205.0C1083.2 204.3 1088.6 204.7 1090.5 203.5C1092.4 202.3 1091.8 199.4 1092.5 198.0C1093.2 196.6 1094.1 190.2 1094.4 195.0C1094.7 199.8 1096.4 221.2 1094.4 226.5C1092.4 231.8 1085.3 227.5 1082.5 227.0C1079.7 226.5 1078.6 225.3 1077.5 223.5C1076.4 221.7 1076.1 218.7 1076.0 216.0C1075.9 213.3 1076.2 209.3 1077.0 207.5Z" fill="#b2b2b2"/>
<path d="M1082.5 208.6C1084.5 206.6 1092.4 203.3 1094.4 206.0C1096.4 208.7 1096.0 221.5 1094.4 224.7C1092.8 227.9 1087.0 226.1 1085.0 225.0C1083.0 223.9 1082.9 220.7 1082.5 218.0C1082.1 215.3 1080.5 210.6 1082.5 208.6Z" fill="#939393"/>
<ellipse cx="1089" cy="216.5" rx="4.5" ry="7" fill="#747474"/>
<ellipse cx="1088.7" cy="216.7" rx="2.5" ry="5.5" fill="#575757"/></g>
<line x1="265.5" y1="97.45" x2="265.5" y2="359" stroke="#8c8c8c" stroke-width="1.2"/>
<line x1="403.5" y1="97.45" x2="403.5" y2="359" stroke="#8c8c8c" stroke-width="1.2"/>
<line x1="542.5" y1="97.45" x2="542.5" y2="359" stroke="#8c8c8c" stroke-width="1.2"/>
<line x1="680.5" y1="97.45" x2="680.5" y2="359" stroke="#8c8c8c" stroke-width="1.2"/>
<line x1="818.5" y1="97.45" x2="818.5" y2="359" stroke="#8c8c8c" stroke-width="1.2"/>
<line x1="956.5" y1="97.45" x2="956.5" y2="359" stroke="#8c8c8c" stroke-width="1.2"/>
<line x1="127.3" y1="321.5" x2="1095.0" y2="321.5" stroke="#858585" stroke-width="1" stroke-dasharray="1,1"/>
<line x1="127.3" y1="284.5" x2="1095.0" y2="284.5" stroke="#858585" stroke-width="1" stroke-dasharray="1,1"/>
<line x1="127.3" y1="247.5" x2="1095.0" y2="247.5" stroke="#858585" stroke-width="1" stroke-dasharray="1,1"/>
<line x1="127.3" y1="209.5" x2="1095.0" y2="209.5" stroke="#858585" stroke-width="1" stroke-dasharray="1,1"/>
<line x1="127.3" y1="172.5" x2="1095.0" y2="172.5" stroke="#858585" stroke-width="1" stroke-dasharray="1,1"/>
<line x1="219.9" y1="97.45" x2="219.9" y2="359" stroke="#111" stroke-width="2" stroke-dasharray="5,3"/>
<polyline points="128.0,270.1 133.1,264.0 138.2,263.4 143.3,266.7 149.8,272.2 155.5,268.1 163.6,264.0 171.7,260.0 178.9,254.9 186.0,247.8 194.1,238.6 201.2,229.5 207.3,220.3 218.5,220.9 224.6,226.4 232.7,238.6 241.9,252.4 249.0,257.9 259.1,264.6 270.0,268.6 283.5,273.0 298.8,278.0 303.9,277.4 310.6,271.3 320.8,251.0 332.6,227.2 346.2,214.4 353.0,213.7 359.7,217.1 366.5,230.6 375.0,247.6 385.1,261.1 402.0,271.3 417.6,279.9 438.2,289.0 444.0,288.1 449.9,282.2 458.7,264.6 467.5,241.1 476.3,222.0 483.7,215.6 489.5,215.3 496.9,220.6 505.7,235.2 514.5,252.8 524.8,268.1 538.0,276.9 553.2,286.6 566.4,291.9 576.7,295.4 581.1,294.5 587.0,288.1 595.8,270.5 604.6,247.0 613.4,232.3 622.2,222.0 628.1,220.0 634.0,222.0 639.8,229.4 648.6,247.0 660.4,268.1 675.0,279.9 691.7,292.5 703.5,300.4 713.8,304.8 719.6,304.2 725.5,297.8 734.3,276.3 743.1,251.4 751.9,235.2 759.3,227.0 765.1,225.0 771.0,227.9 778.4,236.7 787.2,252.8 796.0,270.5 803.3,278.7 818.0,286.6 833.2,294.5 845.0,299.8 852.3,302.2 858.2,300.7 864.0,295.4 872.8,277.8 881.7,255.8 890.5,239.6 897.8,230.8 903.7,229.4 909.5,232.3 916.9,241.1 925.7,257.3 934.5,273.4 943.3,280.7 958.0,290.4 972.6,298.0 983.7,305.9 991.6,311.3 996.4,312.3 1001.1,309.1 1010.6,290.1 1020.1,271.1 1031.1,253.8 1037.5,247.4 1042.8,245.8 1050.1,249.0 1058.0,260.1 1067.5,277.5 1077.6,294.2 1086.5,300.6 1094.4,305.9" fill="none" stroke="#ff0000" stroke-width="3" stroke-linejoin="round" stroke-linecap="butt"/>
<text x="149.4" y="294.8" font-size="17.5" fill="#000" text-anchor="middle" textLength="21.6" lengthAdjust="spacingAndGlyphs">11</text>
<text x="207.3" y="241.7" font-size="17.5" fill="#000" text-anchor="middle" textLength="21.6" lengthAdjust="spacingAndGlyphs">17</text>
<text x="299.6" y="300.7" font-size="17.5" fill="#000" text-anchor="middle" textLength="21.6" lengthAdjust="spacingAndGlyphs">10</text>
<text x="351.0" y="235.0" font-size="17.5" fill="#000" text-anchor="middle" textLength="21.6" lengthAdjust="spacingAndGlyphs">17</text>
<text x="437.9" y="311.0" font-size="17.5" fill="#000" text-anchor="middle" textLength="10.8" lengthAdjust="spacingAndGlyphs">9</text>
<text x="489.6" y="236.7" font-size="17.5" fill="#000" text-anchor="middle" textLength="21.6" lengthAdjust="spacingAndGlyphs">17</text>
<text x="576.7" y="317.4" font-size="17.5" fill="#000" text-anchor="middle" textLength="10.8" lengthAdjust="spacingAndGlyphs">8</text>
<text x="627.3" y="242.0" font-size="17.5" fill="#000" text-anchor="middle" textLength="21.6" lengthAdjust="spacingAndGlyphs">17</text>
<text x="714.5" y="326.8" font-size="17.5" fill="#000" text-anchor="middle" textLength="10.8" lengthAdjust="spacingAndGlyphs">7</text>
<text x="766.3" y="246.4" font-size="17.5" fill="#000" text-anchor="middle" textLength="21.6" lengthAdjust="spacingAndGlyphs">16</text>
<text x="852.9" y="323.3" font-size="17.5" fill="#000" text-anchor="middle" textLength="10.8" lengthAdjust="spacingAndGlyphs">7</text>
<text x="904.2" y="250.8" font-size="17.5" fill="#000" text-anchor="middle" textLength="21.6" lengthAdjust="spacingAndGlyphs">15</text>
<text x="990.5" y="334.4" font-size="17.5" fill="#000" text-anchor="middle" textLength="10.8" lengthAdjust="spacingAndGlyphs">6</text>
<text x="1042.7" y="267.0" font-size="17.5" fill="#000" text-anchor="middle" textLength="21.6" lengthAdjust="spacingAndGlyphs">14</text>
<text x="1094.1" y="327.5" font-size="17.5" fill="#000" text-anchor="middle" textLength="10.8" lengthAdjust="spacingAndGlyphs">7</text>
<line x1="127" y1="97.45" x2="1095.1" y2="97.45" stroke="#000" stroke-width="1.3"/>
<line x1="127.55" y1="96.8" x2="127.55" y2="360" stroke="#000" stroke-width="1.25"/>
<line x1="1094.5" y1="96.8" x2="1094.5" y2="360" stroke="#000" stroke-width="1.25"/>
<line x1="127" y1="359.4" x2="1095.1" y2="359.4" stroke="#000" stroke-width="1.3"/>
<line x1="144.5" y1="359" x2="144.5" y2="354" stroke="#000" stroke-width="1.1"/>
<line x1="161.5" y1="359" x2="161.5" y2="349" stroke="#000" stroke-width="1.1"/>
<line x1="179.5" y1="359" x2="179.5" y2="354" stroke="#000" stroke-width="1.1"/>
<line x1="196.5" y1="359" x2="196.5" y2="349" stroke="#000" stroke-width="1.1"/>
<line x1="213.5" y1="359" x2="213.5" y2="354" stroke="#000" stroke-width="1.1"/>
<line x1="230.5" y1="359" x2="230.5" y2="349" stroke="#000" stroke-width="1.1"/>
<line x1="248.5" y1="359" x2="248.5" y2="354" stroke="#000" stroke-width="1.1"/>
<line x1="265.5" y1="359" x2="265.5" y2="349" stroke="#000" stroke-width="1.1"/>
<line x1="282.5" y1="359" x2="282.5" y2="354" stroke="#000" stroke-width="1.1"/>
<line x1="300.5" y1="359" x2="300.5" y2="349" stroke="#000" stroke-width="1.1"/>
<line x1="317.5" y1="359" x2="317.5" y2="354" stroke="#000" stroke-width="1.1"/>
<line x1="334.5" y1="359" x2="334.5" y2="349" stroke="#000" stroke-width="1.1"/>
<line x1="351.5" y1="359" x2="351.5" y2="354" stroke="#000" stroke-width="1.1"/>
<line x1="369.5" y1="359" x2="369.5" y2="349" stroke="#000" stroke-width="1.1"/>
<line x1="386.5" y1="359" x2="386.5" y2="354" stroke="#000" stroke-width="1.1"/>
<line x1="403.5" y1="359" x2="403.5" y2="349" stroke="#000" stroke-width="1.1"/>
<line x1="421.5" y1="359" x2="421.5" y2="354" stroke="#000" stroke-width="1.1"/>
<line x1="438.5" y1="359" x2="438.5" y2="349" stroke="#000" stroke-width="1.1"/>
<line x1="455.5" y1="359" x2="455.5" y2="354" stroke="#000" stroke-width="1.1"/>
<line x1="472.5" y1="359" x2="472.5" y2="349" stroke="#000" stroke-width="1.1"/>
<line x1="490.5" y1="359" x2="490.5" y2="354" stroke="#000" stroke-width="1.1"/>
<line x1="507.5" y1="359" x2="507.5" y2="349" stroke="#000" stroke-width="1.1"/>
<line x1="524.5" y1="359" x2="524.5" y2="354" stroke="#000" stroke-width="1.1"/>
<line x1="542.5" y1="359" x2="542.5" y2="349" stroke="#000" stroke-width="1.1"/>
<line x1="559.5" y1="359" x2="559.5" y2="354" stroke="#000" stroke-width="1.1"/>
<line x1="576.5" y1="359" x2="576.5" y2="349" stroke="#000" stroke-width="1.1"/>
<line x1="593.5" y1="359" x2="593.5" y2="354" stroke="#000" stroke-width="1.1"/>
<line x1="611.5" y1="359" x2="611.5" y2="349" stroke="#000" stroke-width="1.1"/>
<line x1="628.5" y1="359" x2="628.5" y2="354" stroke="#000" stroke-width="1.1"/>
<line x1="645.5" y1="359" x2="645.5" y2="349" stroke="#000" stroke-width="1.1"/>
<line x1="662.5" y1="359" x2="662.5" y2="354" stroke="#000" stroke-width="1.1"/>
<line x1="680.5" y1="359" x2="680.5" y2="349" stroke="#000" stroke-width="1.1"/>
<line x1="697.5" y1="359" x2="697.5" y2="354" stroke="#000" stroke-width="1.1"/>
<line x1="714.5" y1="359" x2="714.5" y2="349" stroke="#000" stroke-width="1.1"/>
<line x1="732.5" y1="359" x2="732.5" y2="354" stroke="#000" stroke-width="1.1"/>
<line x1="749.5" y1="359" x2="749.5" y2="349" stroke="#000" stroke-width="1.1"/>
<line x1="766.5" y1="359" x2="766.5" y2="354" stroke="#000" stroke-width="1.1"/>
<line x1="783.5" y1="359" x2="783.5" y2="349" stroke="#000" stroke-width="1.1"/>
<line x1="801.5" y1="359" x2="801.5" y2="354" stroke="#000" stroke-width="1.1"/>
<line x1="818.5" y1="359" x2="818.5" y2="349" stroke="#000" stroke-width="1.1"/>
<line x1="835.5" y1="359" x2="835.5" y2="354" stroke="#000" stroke-width="1.1"/>
<line x1="853.5" y1="359" x2="853.5" y2="349" stroke="#000" stroke-width="1.1"/>
<line x1="870.5" y1="359" x2="870.5" y2="354" stroke="#000" stroke-width="1.1"/>
<line x1="887.5" y1="359" x2="887.5" y2="349" stroke="#000" stroke-width="1.1"/>
<line x1="904.5" y1="359" x2="904.5" y2="354" stroke="#000" stroke-width="1.1"/>
<line x1="922.5" y1="359" x2="922.5" y2="349" stroke="#000" stroke-width="1.1"/>
<line x1="939.5" y1="359" x2="939.5" y2="354" stroke="#000" stroke-width="1.1"/>
<line x1="956.5" y1="359" x2="956.5" y2="349" stroke="#000" stroke-width="1.1"/>
<line x1="974.5" y1="359" x2="974.5" y2="354" stroke="#000" stroke-width="1.1"/>
<line x1="991.5" y1="359" x2="991.5" y2="349" stroke="#000" stroke-width="1.1"/>
<line x1="1008.5" y1="359" x2="1008.5" y2="354" stroke="#000" stroke-width="1.1"/>
<line x1="1025.5" y1="359" x2="1025.5" y2="349" stroke="#000" stroke-width="1.1"/>
<line x1="1043.5" y1="359" x2="1043.5" y2="354" stroke="#000" stroke-width="1.1"/>
<line x1="1060.5" y1="359" x2="1060.5" y2="349" stroke="#000" stroke-width="1.1"/>
<line x1="1077.5" y1="359" x2="1077.5" y2="354" stroke="#000" stroke-width="1.1"/>
<text x="161.0" y="375.8" font-size="17.3" fill="#000" text-anchor="middle" textLength="21" lengthAdjust="spacingAndGlyphs">06</text>
<text x="195.5" y="375.8" font-size="17.3" fill="#000" text-anchor="middle" textLength="21" lengthAdjust="spacingAndGlyphs">12</text>
<text x="230.1" y="375.8" font-size="17.3" fill="#000" text-anchor="middle" textLength="21" lengthAdjust="spacingAndGlyphs">18</text>
<text x="265.5" y="375.8" font-size="17.3" fill="#000" text-anchor="middle" textLength="25" lengthAdjust="spacingAndGlyphs">tor</text>
<text x="299.2" y="375.8" font-size="17.3" fill="#000" text-anchor="middle" textLength="21" lengthAdjust="spacingAndGlyphs">06</text>
<text x="333.8" y="375.8" font-size="17.3" fill="#000" text-anchor="middle" textLength="21" lengthAdjust="spacingAndGlyphs">12</text>
<text x="368.3" y="375.8" font-size="17.3" fill="#000" text-anchor="middle" textLength="21" lengthAdjust="spacingAndGlyphs">18</text>
<text x="403.8" y="375.8" font-size="17.3" fill="#000" text-anchor="middle" textLength="26.8" lengthAdjust="spacingAndGlyphs">sre</text>
<text x="437.4" y="375.8" font-size="17.3" fill="#000" text-anchor="middle" textLength="21" lengthAdjust="spacingAndGlyphs">06</text>
<text x="472.0" y="375.8" font-size="17.3" fill="#000" text-anchor="middle" textLength="21" lengthAdjust="spacingAndGlyphs">12</text>
<text x="506.6" y="375.8" font-size="17.3" fill="#000" text-anchor="middle" textLength="21" lengthAdjust="spacingAndGlyphs">18</text>
<text x="542.0" y="375.8" font-size="17.3" fill="#000" text-anchor="middle" textLength="29.3" lengthAdjust="spacingAndGlyphs">čet</text>
<text x="575.7" y="375.8" font-size="17.3" fill="#000" text-anchor="middle" textLength="21" lengthAdjust="spacingAndGlyphs">06</text>
<text x="610.2" y="375.8" font-size="17.3" fill="#000" text-anchor="middle" textLength="21" lengthAdjust="spacingAndGlyphs">12</text>
<text x="644.8" y="375.8" font-size="17.3" fill="#000" text-anchor="middle" textLength="21" lengthAdjust="spacingAndGlyphs">18</text>
<text x="680.3" y="375.8" font-size="17.3" fill="#000" text-anchor="middle" textLength="29.2" lengthAdjust="spacingAndGlyphs">pet</text>
<text x="713.9" y="375.8" font-size="17.3" fill="#000" text-anchor="middle" textLength="21" lengthAdjust="spacingAndGlyphs">06</text>
<text x="748.5" y="375.8" font-size="17.3" fill="#000" text-anchor="middle" textLength="21" lengthAdjust="spacingAndGlyphs">12</text>
<text x="783.0" y="375.8" font-size="17.3" fill="#000" text-anchor="middle" textLength="21" lengthAdjust="spacingAndGlyphs">18</text>
<text x="818.5" y="375.8" font-size="17.3" fill="#000" text-anchor="middle" textLength="30.4" lengthAdjust="spacingAndGlyphs">sob</text>
<text x="852.2" y="375.8" font-size="17.3" fill="#000" text-anchor="middle" textLength="21" lengthAdjust="spacingAndGlyphs">06</text>
<text x="886.7" y="375.8" font-size="17.3" fill="#000" text-anchor="middle" textLength="21" lengthAdjust="spacingAndGlyphs">12</text>
<text x="921.3" y="375.8" font-size="17.3" fill="#000" text-anchor="middle" textLength="21" lengthAdjust="spacingAndGlyphs">18</text>
<text x="956.7" y="375.8" font-size="17.3" fill="#000" text-anchor="middle" textLength="32" lengthAdjust="spacingAndGlyphs">ned</text>
<text x="990.4" y="375.8" font-size="17.3" fill="#000" text-anchor="middle" textLength="21" lengthAdjust="spacingAndGlyphs">06</text>
<text x="1025.0" y="375.8" font-size="17.3" fill="#000" text-anchor="middle" textLength="21" lengthAdjust="spacingAndGlyphs">12</text>
<text x="1059.5" y="375.8" font-size="17.3" fill="#000" text-anchor="middle" textLength="21" lengthAdjust="spacingAndGlyphs">18</text>
<text x="122.5" y="364.8" font-size="17.3" fill="#000" text-anchor="end" textLength="9.6" lengthAdjust="spacingAndGlyphs">0</text>
<text x="122.5" y="327.6" font-size="17.3" fill="#000" text-anchor="end" textLength="9.6" lengthAdjust="spacingAndGlyphs">1</text>
<text x="122.5" y="290.4" font-size="17.3" fill="#000" text-anchor="end" textLength="9.6" lengthAdjust="spacingAndGlyphs">2</text>
<text x="122.5" y="253.2" font-size="17.3" fill="#000" text-anchor="end" textLength="9.6" lengthAdjust="spacingAndGlyphs">3</text>
<text x="122.5" y="216.0" font-size="17.3" fill="#000" text-anchor="end" textLength="9.6" lengthAdjust="spacingAndGlyphs">4</text>
<text x="122.5" y="178.8" font-size="17.3" fill="#000" text-anchor="end" textLength="9.6" lengthAdjust="spacingAndGlyphs">5</text>
<text x="46.5" y="364.8" font-size="17.3" fill="#f00000" text-anchor="start" textLength="10.6" lengthAdjust="spacingAndGlyphs">1</text>
<text x="46.5" y="327.6" font-size="17.3" fill="#f00000" text-anchor="start" textLength="10.6" lengthAdjust="spacingAndGlyphs">5</text>
<text x="46.5" y="290.4" font-size="17.3" fill="#f00000" text-anchor="start" textLength="10.6" lengthAdjust="spacingAndGlyphs">9</text>
<text x="46.5" y="253.2" font-size="17.3" fill="#f00000" text-anchor="start" textLength="21.2" lengthAdjust="spacingAndGlyphs">14</text>
<text x="46.5" y="216.0" font-size="17.3" fill="#f00000" text-anchor="start" textLength="21.2" lengthAdjust="spacingAndGlyphs">18</text>
<text x="46.5" y="178.8" font-size="17.3" fill="#f00000" text-anchor="start" textLength="21.2" lengthAdjust="spacingAndGlyphs">22</text>
<text x="1098.6" y="364.8" font-size="17.3" fill="#000" text-anchor="start" textLength="10.6" lengthAdjust="spacingAndGlyphs">0</text>
<text x="1098.6" y="327.6" font-size="17.3" fill="#000" text-anchor="start" textLength="27.6" lengthAdjust="spacingAndGlyphs">1.5</text>
<text x="1098.6" y="290.4" font-size="17.3" fill="#000" text-anchor="start" textLength="27.6" lengthAdjust="spacingAndGlyphs">3.5</text>
<text x="1098.6" y="253.2" font-size="17.3" fill="#000" text-anchor="start" textLength="27.6" lengthAdjust="spacingAndGlyphs">6.0</text>
<text x="1098.6" y="216.0" font-size="17.3" fill="#000" text-anchor="start" textLength="27.6" lengthAdjust="spacingAndGlyphs">9.0</text>
<text x="1098.6" y="178.8" font-size="17.3" fill="#000" text-anchor="start" textLength="21.6" lengthAdjust="spacingAndGlyphs">14</text>
<text transform="translate(35.3,266.9) rotate(-90)" font-size="21" fill="#f00000" text-anchor="middle" textLength="163" lengthAdjust="spacingAndGlyphs">Temperatura (°C)</text>
<text transform="translate(99.7,263.2) rotate(-90)" font-size="21" fill="#000" text-anchor="middle" textLength="163.5" lengthAdjust="spacingAndGlyphs">Padavine (mm/h)</text>
<text transform="translate(1145.1,254.6) rotate(-90)" font-size="21" fill="#000" text-anchor="middle" textLength="189" lengthAdjust="spacingAndGlyphs">Višina oblakov (km)</text>
<text x="196.4" y="69.3" font-size="17.5" fill="#000" text-anchor="middle" textLength="97" lengthAdjust="spacingAndGlyphs">ponedeljek</text>
<text x="196.4" y="89.9" font-size="17.5" fill="#000" text-anchor="middle" textLength="49.5" lengthAdjust="spacingAndGlyphs">13.10</text>
<text x="334.7" y="69.3" font-size="17.5" fill="#000" text-anchor="middle" textLength="47" lengthAdjust="spacingAndGlyphs">torek</text>
<text x="334.7" y="89.9" font-size="17.5" fill="#000" text-anchor="middle" textLength="49.5" lengthAdjust="spacingAndGlyphs">14.10</text>
<text x="472.9" y="69.3" font-size="17.5" fill="#000" text-anchor="middle" textLength="50" lengthAdjust="spacingAndGlyphs">sreda</text>
<text x="472.9" y="89.9" font-size="17.5" fill="#000" text-anchor="middle" textLength="49.5" lengthAdjust="spacingAndGlyphs">15.10</text>
<text x="611.1" y="69.3" font-size="17.5" fill="#000" text-anchor="middle" textLength="64" lengthAdjust="spacingAndGlyphs">četrtek</text>
<text x="611.1" y="89.9" font-size="17.5" fill="#000" text-anchor="middle" textLength="49.5" lengthAdjust="spacingAndGlyphs">16.10</text>
<text x="749.4" y="69.3" font-size="17.5" fill="#000" text-anchor="middle" textLength="48" lengthAdjust="spacingAndGlyphs">petek</text>
<text x="749.4" y="89.9" font-size="17.5" fill="#000" text-anchor="middle" textLength="49.5" lengthAdjust="spacingAndGlyphs">17.10</text>
<text x="887.6" y="69.3" font-size="17.5" fill="#cc0000" text-anchor="middle" textLength="60" lengthAdjust="spacingAndGlyphs">sobota</text>
<text x="887.6" y="89.9" font-size="17.5" fill="#cc0000" text-anchor="middle" textLength="49.5" lengthAdjust="spacingAndGlyphs">18.10</text>
<text x="1025.9" y="69.3" font-size="17.5" fill="#cc0000" text-anchor="middle" textLength="64.5" lengthAdjust="spacingAndGlyphs">nedelja</text>
<text x="1025.9" y="89.9" font-size="17.5" fill="#cc0000" text-anchor="middle" textLength="49.5" lengthAdjust="spacingAndGlyphs">19.10</text>
<g transform="translate(144.58,97.0)"><path d="M -0.55 3.45 A 12.9 12.9 0 1 0 -1.7 29.2 A 17.56 17.56 0 0 1 -0.55 3.45 Z" fill="none" stroke="#000" stroke-width="1.6" stroke-linejoin="round"/><g transform="translate(-9.75,13.70) scale(1.0022,0.9961)"><circle cx="5.3" cy="9.3" r="4.4" fill="#2f5079" stroke="#2f5079" stroke-width="3.8" vector-effect="non-scaling-stroke"/><circle cx="12.7" cy="6.5" r="5.6" fill="#2f5079" stroke="#2f5079" stroke-width="3.8" vector-effect="non-scaling-stroke"/><circle cx="20.0" cy="10.3" r="3.5" fill="#2f5079" stroke="#2f5079" stroke-width="3.8" vector-effect="non-scaling-stroke"/><rect x="5.3" y="9.3" width="14.7" height="4.45" fill="#2f5079" stroke="#2f5079" stroke-width="3.8" vector-effect="non-scaling-stroke"/><circle cx="5.3" cy="9.3" r="4.4" fill="#d4d4d4"/><circle cx="12.7" cy="6.5" r="5.6" fill="#d4d4d4"/><circle cx="20.0" cy="10.3" r="3.5" fill="#d4d4d4"/><rect x="5.3" y="9.3" width="14.7" height="4.45" fill="#d4d4d4"/><path d="M 13.6 9.6 Q 15.6 5.7 19.6 6.9" fill="none" stroke="#2f5079" stroke-width="1.9" vector-effect="non-scaling-stroke" stroke-linecap="round"/></g></g>
<g transform="translate(179.14,97.0)"><g><circle cx="-11.3" cy="20.6" r="5.2" fill="#2a5fbf" stroke="#2a5fbf" stroke-width="3.8" vector-effect="non-scaling-stroke"/><circle cx="-1.2" cy="14.2" r="5.9" fill="#2a5fbf" stroke="#2a5fbf" stroke-width="3.8" vector-effect="non-scaling-stroke"/><circle cx="10.3" cy="17.7" r="6.0" fill="#2a5fbf" stroke="#2a5fbf" stroke-width="3.8" vector-effect="non-scaling-stroke"/><rect x="-11.3" y="17" width="21.6" height="8" fill="#2a5fbf" stroke="#2a5fbf" stroke-width="3.8" vector-effect="non-scaling-stroke"/><circle cx="-11.3" cy="20.6" r="5.2" fill="#d4d4d4"/><circle cx="-1.2" cy="14.2" r="5.9" fill="#d4d4d4"/><circle cx="10.3" cy="17.7" r="6.0" fill="#d4d4d4"/><rect x="-11.3" y="17" width="21.6" height="8" fill="#d4d4d4"/></g><g transform="translate(-8.82,13.49) scale(0.9204,1.0117)"><circle cx="5.3" cy="9.3" r="4.4" fill="#2a5fbf" stroke="#2a5fbf" stroke-width="3.8" vector-effect="non-scaling-stroke"/><circle cx="12.7" cy="6.5" r="5.6" fill="#2a5fbf" stroke="#2a5fbf" stroke-width="3.8" vector-effect="non-scaling-stroke"/><circle cx="20.0" cy="10.3" r="3.5" fill="#2a5fbf" stroke="#2a5fbf" stroke-width="3.8" vector-effect="non-scaling-stroke"/><rect x="5.3" y="9.3" width="14.7" height="4.45" fill="#2a5fbf" stroke="#2a5fbf" stroke-width="3.8" vector-effect="non-scaling-stroke"/><circle cx="5.3" cy="9.3" r="4.4" fill="#ffffff"/><circle cx="12.7" cy="6.5" r="5.6" fill="#ffffff"/><circle cx="20.0" cy="10.3" r="3.5" fill="#ffffff"/><rect x="5.3" y="9.3" width="14.7" height="4.45" fill="#ffffff"/><path d="M 13.6 9.6 Q 15.6 5.7 19.6 6.9" fill="none" stroke="#2a5fbf" stroke-width="1.9" vector-effect="non-scaling-stroke" stroke-linecap="round"/></g></g>
<g transform="translate(213.70,97.0)"><line x1="4.76" y1="8.06" x2="5.80" y2="3.17" stroke="#e9d43a" stroke-width="2.6"/><line x1="4.76" y1="8.06" x2="5.80" y2="3.17" stroke="#f4e41c" stroke-width="1.8"/><line x1="9.49" y1="11.32" x2="13.68" y2="8.59" stroke="#e9d43a" stroke-width="2.6"/><line x1="9.49" y1="11.32" x2="13.68" y2="8.59" stroke="#f4e41c" stroke-width="1.8"/><line x1="10.54" y1="16.96" x2="15.43" y2="18.00" stroke="#e9d43a" stroke-width="2.6"/><line x1="10.54" y1="16.96" x2="15.43" y2="18.00" stroke="#f4e41c" stroke-width="1.8"/><line x1="7.28" y1="21.69" x2="10.01" y2="25.88" stroke="#e9d43a" stroke-width="2.6"/><line x1="7.28" y1="21.69" x2="10.01" y2="25.88" stroke="#f4e41c" stroke-width="1.8"/><line x1="1.64" y1="22.74" x2="0.60" y2="27.63" stroke="#e9d43a" stroke-width="2.6"/><line x1="1.64" y1="22.74" x2="0.60" y2="27.63" stroke="#f4e41c" stroke-width="1.8"/><line x1="-3.09" y1="19.48" x2="-7.28" y2="22.21" stroke="#e9d43a" stroke-width="2.6"/><line x1="-3.09" y1="19.48" x2="-7.28" y2="22.21" stroke="#f4e41c" stroke-width="1.8"/><line x1="-4.14" y1="13.84" x2="-9.03" y2="12.80" stroke="#e9d43a" stroke-width="2.6"/><line x1="-4.14" y1="13.84" x2="-9.03" y2="12.80" stroke="#f4e41c" stroke-width="1.8"/><line x1="-0.88" y1="9.11" x2="-3.61" y2="4.92" stroke="#e9d43a" stroke-width="2.6"/><line x1="-0.88" y1="9.11" x2="-3.61" y2="4.92" stroke="#f4e41c" stroke-width="1.8"/><circle cx="3.2" cy="15.4" r="6.3" fill="#f4e41c" stroke="#f0a830" stroke-width="0.9"/><g transform="translate(-15.83,16.30) scale(0.8761,0.9494)"><circle cx="5.3" cy="9.3" r="4.4" fill="#2a5fbf" stroke="#2a5fbf" stroke-width="4.0" vector-effect="non-scaling-stroke"/><circle cx="12.7" cy="6.5" r="5.6" fill="#2a5fbf" stroke="#2a5fbf" stroke-width="4.0" vector-effect="non-scaling-stroke"/><circle cx="20.0" cy="10.3" r="3.5" fill="#2a5fbf" stroke="#2a5fbf" stroke-width="4.0" vector-effect="non-scaling-stroke"/><rect x="5.3" y="9.3" width="14.7" height="4.45" fill="#2a5fbf" stroke="#2a5fbf" stroke-width="4.0" vector-effect="non-scaling-stroke"/><circle cx="5.3" cy="9.3" r="4.4" fill="#d4d4d4"/><circle cx="12.7" cy="6.5" r="5.6" fill="#d4d4d4"/><circle cx="20.0" cy="10.3" r="3.5" fill="#d4d4d4"/><rect x="5.3" y="9.3" width="14.7" height="4.45" fill="#d4d4d4"/><path d="M 13.6 9.6 Q 15.6 5.7 19.6 6.9" fill="none" stroke="#2a5fbf" stroke-width="2.0" vector-effect="non-scaling-stroke" stroke-linecap="round"/></g></g>
<g transform="translate(248.26,97.0)"><path d="M -0.55 3.45 A 12.9 12.9 0 1 0 -1.7 29.2 A 17.56 17.56 0 0 1 -0.55 3.45 Z" fill="none" stroke="#000" stroke-width="1.6" stroke-linejoin="round"/><g transform="translate(-9.75,13.70) scale(1.0022,0.9961)"><circle cx="5.3" cy="9.3" r="4.4" fill="#2f5079" stroke="#2f5079" stroke-width="3.8" vector-effect="non-scaling-stroke"/><circle cx="12.7" cy="6.5" r="5.6" fill="#2f5079" stroke="#2f5079" stroke-width="3.8" vector-effect="non-scaling-stroke"/><circle cx="20.0" cy="10.3" r="3.5" fill="#2f5079" stroke="#2f5079" stroke-width="3.8" vector-effect="non-scaling-stroke"/><rect x="5.3" y="9.3" width="14.7" height="4.45" fill="#2f5079" stroke="#2f5079" stroke-width="3.8" vector-effect="non-scaling-stroke"/><circle cx="5.3" cy="9.3" r="4.4" fill="#d4d4d4"/><circle cx="12.7" cy="6.5" r="5.6" fill="#d4d4d4"/><circle cx="20.0" cy="10.3" r="3.5" fill="#d4d4d4"/><rect x="5.3" y="9.3" width="14.7" height="4.45" fill="#d4d4d4"/><path d="M 13.6 9.6 Q 15.6 5.7 19.6 6.9" fill="none" stroke="#2f5079" stroke-width="1.9" vector-effect="non-scaling-stroke" stroke-linecap="round"/></g></g>
<g transform="translate(282.82,97.0)"><g><circle cx="-11.3" cy="20.6" r="5.2" fill="#2f5079" stroke="#2f5079" stroke-width="3.8" vector-effect="non-scaling-stroke"/><circle cx="-1.2" cy="14.2" r="5.9" fill="#2f5079" stroke="#2f5079" stroke-width="3.8" vector-effect="non-scaling-stroke"/><circle cx="10.3" cy="17.7" r="6.0" fill="#2f5079" stroke="#2f5079" stroke-width="3.8" vector-effect="non-scaling-stroke"/><rect x="-11.3" y="17" width="21.6" height="8" fill="#2f5079" stroke="#2f5079" stroke-width="3.8" vector-effect="non-scaling-stroke"/><circle cx="-11.3" cy="20.6" r="5.2" fill="#d4d4d4"/><circle cx="-1.2" cy="14.2" r="5.9" fill="#d4d4d4"/><circle cx="10.3" cy="17.7" r="6.0" fill="#d4d4d4"/><rect x="-11.3" y="17" width="21.6" height="8" fill="#d4d4d4"/></g><g transform="translate(-8.82,13.49) scale(0.9204,1.0117)"><circle cx="5.3" cy="9.3" r="4.4" fill="#2f5079" stroke="#2f5079" stroke-width="3.8" vector-effect="non-scaling-stroke"/><circle cx="12.7" cy="6.5" r="5.6" fill="#2f5079" stroke="#2f5079" stroke-width="3.8" vector-effect="non-scaling-stroke"/><circle cx="20.0" cy="10.3" r="3.5" fill="#2f5079" stroke="#2f5079" stroke-width="3.8" vector-effect="non-scaling-stroke"/><rect x="5.3" y="9.3" width="14.7" height="4.45" fill="#2f5079" stroke="#2f5079" stroke-width="3.8" vector-effect="non-scaling-stroke"/><circle cx="5.3" cy="9.3" r="4.4" fill="#ffffff"/><circle cx="12.7" cy="6.5" r="5.6" fill="#ffffff"/><circle cx="20.0" cy="10.3" r="3.5" fill="#ffffff"/><rect x="5.3" y="9.3" width="14.7" height="4.45" fill="#ffffff"/><path d="M 13.6 9.6 Q 15.6 5.7 19.6 6.9" fill="none" stroke="#2f5079" stroke-width="1.9" vector-effect="non-scaling-stroke" stroke-linecap="round"/></g></g>
<g transform="translate(317.38,97.0)"><line x1="4.76" y1="8.06" x2="5.80" y2="3.17" stroke="#e9d43a" stroke-width="2.6"/><line x1="4.76" y1="8.06" x2="5.80" y2="3.17" stroke="#f4e41c" stroke-width="1.8"/><line x1="9.49" y1="11.32" x2="13.68" y2="8.59" stroke="#e9d43a" stroke-width="2.6"/><line x1="9.49" y1="11.32" x2="13.68" y2="8.59" stroke="#f4e41c" stroke-width="1.8"/><line x1="10.54" y1="16.96" x2="15.43" y2="18.00" stroke="#e9d43a" stroke-width="2.6"/><line x1="10.54" y1="16.96" x2="15.43" y2="18.00" stroke="#f4e41c" stroke-width="1.8"/><line x1="7.28" y1="21.69" x2="10.01" y2="25.88" stroke="#e9d43a" stroke-width="2.6"/><line x1="7.28" y1="21.69" x2="10.01" y2="25.88" stroke="#f4e41c" stroke-width="1.8"/><line x1="1.64" y1="22.74" x2="0.60" y2="27.63" stroke="#e9d43a" stroke-width="2.6"/><line x1="1.64" y1="22.74" x2="0.60" y2="27.63" stroke="#f4e41c" stroke-width="1.8"/><line x1="-3.09" y1="19.48" x2="-7.28" y2="22.21" stroke="#e9d43a" stroke-width="2.6"/><line x1="-3.09" y1="19.48" x2="-7.28" y2="22.21" stroke="#f4e41c" stroke-width="1.8"/><line x1="-4.14" y1="13.84" x2="-9.03" y2="12.80" stroke="#e9d43a" stroke-width="2.6"/><line x1="-4.14" y1="13.84" x2="-9.03" y2="12.80" stroke="#f4e41c" stroke-width="1.8"/><line x1="-0.88" y1="9.11" x2="-3.61" y2="4.92" stroke="#e9d43a" stroke-width="2.6"/><line x1="-0.88" y1="9.11" x2="-3.61" y2="4.92" stroke="#f4e41c" stroke-width="1.8"/><circle cx="3.2" cy="15.4" r="6.3" fill="#f4e41c" stroke="#f0a830" stroke-width="0.9"/><g transform="translate(-15.83,16.30) scale(0.8761,0.9494)"><circle cx="5.3" cy="9.3" r="4.4" fill="#2a5fbf" stroke="#2a5fbf" stroke-width="4.0" vector-effect="non-scaling-stroke"/><circle cx="12.7" cy="6.5" r="5.6" fill="#2a5fbf" stroke="#2a5fbf" stroke-width="4.0" vector-effect="non-scaling-stroke"/><circle cx="20.0" cy="10.3" r="3.5" fill="#2a5fbf" stroke="#2a5fbf" stroke-width="4.0" vector-effect="non-scaling-stroke"/><rect x="5.3" y="9.3" width="14.7" height="4.45" fill="#2a5fbf" stroke="#2a5fbf" stroke-width="4.0" vector-effect="non-scaling-stroke"/><circle cx="5.3" cy="9.3" r="4.4" fill="#d4d4d4"/><circle cx="12.7" cy="6.5" r="5.6" fill="#d4d4d4"/><circle cx="20.0" cy="10.3" r="3.5" fill="#d4d4d4"/><rect x="5.3" y="9.3" width="14.7" height="4.45" fill="#d4d4d4"/><path d="M 13.6 9.6 Q 15.6 5.7 19.6 6.9" fill="none" stroke="#2a5fbf" stroke-width="2.0" vector-effect="non-scaling-stroke" stroke-linecap="round"/></g></g>
<g transform="translate(351.94,97.0)"><line x1="4.76" y1="8.06" x2="5.80" y2="3.17" stroke="#e9d43a" stroke-width="2.6"/><line x1="4.76" y1="8.06" x2="5.80" y2="3.17" stroke="#f4e41c" stroke-width="1.8"/><line x1="9.49" y1="11.32" x2="13.68" y2="8.59" stroke="#e9d43a" stroke-width="2.6"/><line x1="9.49" y1="11.32" x2="13.68" y2="8.59" stroke="#f4e41c" stroke-width="1.8"/><line x1="10.54" y1="16.96" x2="15.43" y2="18.00" stroke="#e9d43a" stroke-width="2.6"/><line x1="10.54" y1="16.96" x2="15.43" y2="18.00" stroke="#f4e41c" stroke-width="1.8"/><line x1="7.28" y1="21.69" x2="10.01" y2="25.88" stroke="#e9d43a" stroke-width="2.6"/><line x1="7.28" y1="21.69" x2="10.01" y2="25.88" stroke="#f4e41c" stroke-width="1.8"/><line x1="1.64" y1="22.74" x2="0.60" y2="27.63" stroke="#e9d43a" stroke-width="2.6"/><line x1="1.64" y1="22.74" x2="0.60" y2="27.63" stroke="#f4e41c" stroke-width="1.8"/><line x1="-3.09" y1="19.48" x2="-7.28" y2="22.21" stroke="#e9d43a" stroke-width="2.6"/><line x1="-3.09" y1="19.48" x2="-7.28" y2="22.21" stroke="#f4e41c" stroke-width="1.8"/><line x1="-4.14" y1="13.84" x2="-9.03" y2="12.80" stroke="#e9d43a" stroke-width="2.6"/><line x1="-4.14" y1="13.84" x2="-9.03" y2="12.80" stroke="#f4e41c" stroke-width="1.8"/><line x1="-0.88" y1="9.11" x2="-3.61" y2="4.92" stroke="#e9d43a" stroke-width="2.6"/><line x1="-0.88" y1="9.11" x2="-3.61" y2="4.92" stroke="#f4e41c" stroke-width="1.8"/><circle cx="3.2" cy="15.4" r="6.3" fill="#f4e41c" stroke="#f0a830" stroke-width="0.9"/><g transform="translate(-15.83,16.30) scale(0.8761,0.9494)"><circle cx="5.3" cy="9.3" r="4.4" fill="#2a5fbf" stroke="#2a5fbf" stroke-width="4.0" vector-effect="non-scaling-stroke"/><circle cx="12.7" cy="6.5" r="5.6" fill="#2a5fbf" stroke="#2a5fbf" stroke-width="4.0" vector-effect="non-scaling-stroke"/><circle cx="20.0" cy="10.3" r="3.5" fill="#2a5fbf" stroke="#2a5fbf" stroke-width="4.0" vector-effect="non-scaling-stroke"/><rect x="5.3" y="9.3" width="14.7" height="4.45" fill="#2a5fbf" stroke="#2a5fbf" stroke-width="4.0" vector-effect="non-scaling-stroke"/><circle cx="5.3" cy="9.3" r="4.4" fill="#d4d4d4"/><circle cx="12.7" cy="6.5" r="5.6" fill="#d4d4d4"/><circle cx="20.0" cy="10.3" r="3.5" fill="#d4d4d4"/><rect x="5.3" y="9.3" width="14.7" height="4.45" fill="#d4d4d4"/><path d="M 13.6 9.6 Q 15.6 5.7 19.6 6.9" fill="none" stroke="#2a5fbf" stroke-width="2.0" vector-effect="non-scaling-stroke" stroke-linecap="round"/></g></g>
<g transform="translate(386.50,97.0)"><path d="M -0.55 3.45 A 12.9 12.9 0 1 0 -1.7 29.2 A 17.56 17.56 0 0 1 -0.55 3.45 Z" fill="none" stroke="#000" stroke-width="1.6" stroke-linejoin="round"/><g transform="translate(-9.75,13.70) scale(1.0022,0.9961)"><circle cx="5.3" cy="9.3" r="4.4" fill="#2f5079" stroke="#2f5079" stroke-width="3.8" vector-effect="non-scaling-stroke"/><circle cx="12.7" cy="6.5" r="5.6" fill="#2f5079" stroke="#2f5079" stroke-width="3.8" vector-effect="non-scaling-stroke"/><circle cx="20.0" cy="10.3" r="3.5" fill="#2f5079" stroke="#2f5079" stroke-width="3.8" vector-effect="non-scaling-stroke"/><rect x="5.3" y="9.3" width="14.7" height="4.45" fill="#2f5079" stroke="#2f5079" stroke-width="3.8" vector-effect="non-scaling-stroke"/><circle cx="5.3" cy="9.3" r="4.4" fill="#d4d4d4"/><circle cx="12.7" cy="6.5" r="5.6" fill="#d4d4d4"/><circle cx="20.0" cy="10.3" r="3.5" fill="#d4d4d4"/><rect x="5.3" y="9.3" width="14.7" height="4.45" fill="#d4d4d4"/><path d="M 13.6 9.6 Q 15.6 5.7 19.6 6.9" fill="none" stroke="#2f5079" stroke-width="1.9" vector-effect="non-scaling-stroke" stroke-linecap="round"/></g></g>
<g transform="translate(421.06,97.0)"><path d="M -0.55 3.45 A 12.9 12.9 0 1 0 -1.7 29.2 A 17.56 17.56 0 0 1 -0.55 3.45 Z" fill="none" stroke="#000" stroke-width="1.6" stroke-linejoin="round"/><g transform="translate(-9.75,13.70) scale(1.0022,0.9961)"><circle cx="5.3" cy="9.3" r="4.4" fill="#2f5079" stroke="#2f5079" stroke-width="3.8" vector-effect="non-scaling-stroke"/><circle cx="12.7" cy="6.5" r="5.6" fill="#2f5079" stroke="#2f5079" stroke-width="3.8" vector-effect="non-scaling-stroke"/><circle cx="20.0" cy="10.3" r="3.5" fill="#2f5079" stroke="#2f5079" stroke-width="3.8" vector-effect="non-scaling-stroke"/><rect x="5.3" y="9.3" width="14.7" height="4.45" fill="#2f5079" stroke="#2f5079" stroke-width="3.8" vector-effect="non-scaling-stroke"/><circle cx="5.3" cy="9.3" r="4.4" fill="#d4d4d4"/><circle cx="12.7" cy="6.5" r="5.6" fill="#d4d4d4"/><circle cx="20.0" cy="10.3" r="3.5" fill="#d4d4d4"/><rect x="5.3" y="9.3" width="14.7" height="4.45" fill="#d4d4d4"/><path d="M 13.6 9.6 Q 15.6 5.7 19.6 6.9" fill="none" stroke="#2f5079" stroke-width="1.9" vector-effect="non-scaling-stroke" stroke-linecap="round"/></g></g>
<g transform="translate(455.62,97.0)"><line x1="-0.90" y1="8.57" x2="0.14" y2="3.68" stroke="#e9d43a" stroke-width="2.6"/><line x1="-0.90" y1="8.57" x2="0.14" y2="3.68" stroke="#f4e41c" stroke-width="1.8"/><line x1="3.96" y1="11.91" x2="8.15" y2="9.18" stroke="#e9d43a" stroke-width="2.6"/><line x1="3.96" y1="11.91" x2="8.15" y2="9.18" stroke="#f4e41c" stroke-width="1.8"/><line x1="5.03" y1="17.70" x2="9.92" y2="18.74" stroke="#e9d43a" stroke-width="2.6"/><line x1="5.03" y1="17.70" x2="9.92" y2="18.74" stroke="#f4e41c" stroke-width="1.8"/><line x1="1.69" y1="22.56" x2="4.42" y2="26.75" stroke="#e9d43a" stroke-width="2.6"/><line x1="1.69" y1="22.56" x2="4.42" y2="26.75" stroke="#f4e41c" stroke-width="1.8"/><line x1="-4.10" y1="23.63" x2="-5.14" y2="28.52" stroke="#e9d43a" stroke-width="2.6"/><line x1="-4.10" y1="23.63" x2="-5.14" y2="28.52" stroke="#f4e41c" stroke-width="1.8"/><line x1="-8.96" y1="20.29" x2="-13.15" y2="23.02" stroke="#e9d43a" stroke-width="2.6"/><line x1="-8.96" y1="20.29" x2="-13.15" y2="23.02" stroke="#f4e41c" stroke-width="1.8"/><line x1="-10.03" y1="14.50" x2="-14.92" y2="13.46" stroke="#e9d43a" stroke-width="2.6"/><line x1="-10.03" y1="14.50" x2="-14.92" y2="13.46" stroke="#f4e41c" stroke-width="1.8"/><line x1="-6.69" y1="9.64" x2="-9.42" y2="5.45" stroke="#e9d43a" stroke-width="2.6"/><line x1="-6.69" y1="9.64" x2="-9.42" y2="5.45" stroke="#f4e41c" stroke-width="1.8"/><circle cx="-2.5" cy="16.1" r="6.5" fill="#f4e41c" stroke="#f0a830" stroke-width="0.9"/><g transform="translate(-2.76,16.77) scale(0.6903,0.7704)"><circle cx="5.3" cy="9.3" r="4.4" fill="#2a5fbf" stroke="#2a5fbf" stroke-width="4.0" vector-effect="non-scaling-stroke"/><circle cx="12.7" cy="6.5" r="5.6" fill="#2a5fbf" stroke="#2a5fbf" stroke-width="4.0" vector-effect="non-scaling-stroke"/><circle cx="20.0" cy="10.3" r="3.5" fill="#2a5fbf" stroke="#2a5fbf" stroke-width="4.0" vector-effect="non-scaling-stroke"/><rect x="5.3" y="9.3" width="14.7" height="4.45" fill="#2a5fbf" stroke="#2a5fbf" stroke-width="4.0" vector-effect="non-scaling-stroke"/><circle cx="5.3" cy="9.3" r="4.4" fill="#ffffff"/><circle cx="12.7" cy="6.5" r="5.6" fill="#ffffff"/><circle cx="20.0" cy="10.3" r="3.5" fill="#ffffff"/><rect x="5.3" y="9.3" width="14.7" height="4.45" fill="#ffffff"/><path d="M 13.6 9.6 Q 15.6 5.7 19.6 6.9" fill="none" stroke="#2a5fbf" stroke-width="2.0" vector-effect="non-scaling-stroke" stroke-linecap="round"/></g></g>
<g transform="translate(490.18,97.0)"><line x1="4.76" y1="8.06" x2="5.80" y2="3.17" stroke="#e9d43a" stroke-width="2.6"/><line x1="4.76" y1="8.06" x2="5.80" y2="3.17" stroke="#f4e41c" stroke-width="1.8"/><line x1="9.49" y1="11.32" x2="13.68" y2="8.59" stroke="#e9d43a" stroke-width="2.6"/><line x1="9.49" y1="11.32" x2="13.68" y2="8.59" stroke="#f4e41c" stroke-width="1.8"/><line x1="10.54" y1="16.96" x2="15.43" y2="18.00" stroke="#e9d43a" stroke-width="2.6"/><line x1="10.54" y1="16.96" x2="15.43" y2="18.00" stroke="#f4e41c" stroke-width="1.8"/><line x1="7.28" y1="21.69" x2="10.01" y2="25.88" stroke="#e9d43a" stroke-width="2.6"/><line x1="7.28" y1="21.69" x2="10.01" y2="25.88" stroke="#f4e41c" stroke-width="1.8"/><line x1="1.64" y1="22.74" x2="0.60" y2="27.63" stroke="#e9d43a" stroke-width="2.6"/><line x1="1.64" y1="22.74" x2="0.60" y2="27.63" stroke="#f4e41c" stroke-width="1.8"/><line x1="-3.09" y1="19.48" x2="-7.28" y2="22.21" stroke="#e9d43a" stroke-width="2.6"/><line x1="-3.09" y1="19.48" x2="-7.28" y2="22.21" stroke="#f4e41c" stroke-width="1.8"/><line x1="-4.14" y1="13.84" x2="-9.03" y2="12.80" stroke="#e9d43a" stroke-width="2.6"/><line x1="-4.14" y1="13.84" x2="-9.03" y2="12.80" stroke="#f4e41c" stroke-width="1.8"/><line x1="-0.88" y1="9.11" x2="-3.61" y2="4.92" stroke="#e9d43a" stroke-width="2.6"/><line x1="-0.88" y1="9.11" x2="-3.61" y2="4.92" stroke="#f4e41c" stroke-width="1.8"/><circle cx="3.2" cy="15.4" r="6.3" fill="#f4e41c" stroke="#f0a830" stroke-width="0.9"/><g transform="translate(-15.83,16.30) scale(0.8761,0.9494)"><circle cx="5.3" cy="9.3" r="4.4" fill="#2a5fbf" stroke="#2a5fbf" stroke-width="4.0" vector-effect="non-scaling-stroke"/><circle cx="12.7" cy="6.5" r="5.6" fill="#2a5fbf" stroke="#2a5fbf" stroke-width="4.0" vector-effect="non-scaling-stroke"/><circle cx="20.0" cy="10.3" r="3.5" fill="#2a5fbf" stroke="#2a5fbf" stroke-width="4.0" vector-effect="non-scaling-stroke"/><rect x="5.3" y="9.3" width="14.7" height="4.45" fill="#2a5fbf" stroke="#2a5fbf" stroke-width="4.0" vector-effect="non-scaling-stroke"/><circle cx="5.3" cy="9.3" r="4.4" fill="#d4d4d4"/><circle cx="12.7" cy="6.5" r="5.6" fill="#d4d4d4"/><circle cx="20.0" cy="10.3" r="3.5" fill="#d4d4d4"/><rect x="5.3" y="9.3" width="14.7" height="4.45" fill="#d4d4d4"/><path d="M 13.6 9.6 Q 15.6 5.7 19.6 6.9" fill="none" stroke="#2a5fbf" stroke-width="2.0" vector-effect="non-scaling-stroke" stroke-linecap="round"/></g></g>
<g transform="translate(524.74,97.0)"><path d="M 3.1 3.8 A 12.74 12.74 0 1 0 3.1 29.2 A 19.83 19.83 0 0 1 3.1 3.8 Z" fill="none" stroke="#000" stroke-width="1.7" stroke-linejoin="round"/><g transform="translate(-4.81,17.46) scale(0.6903,0.7315)"><circle cx="5.3" cy="9.3" r="4.4" fill="#2f5079" stroke="#2f5079" stroke-width="3.4" vector-effect="non-scaling-stroke"/><circle cx="12.7" cy="6.5" r="5.6" fill="#2f5079" stroke="#2f5079" stroke-width="3.4" vector-effect="non-scaling-stroke"/><circle cx="20.0" cy="10.3" r="3.5" fill="#2f5079" stroke="#2f5079" stroke-width="3.4" vector-effect="non-scaling-stroke"/><rect x="5.3" y="9.3" width="14.7" height="4.45" fill="#2f5079" stroke="#2f5079" stroke-width="3.4" vector-effect="non-scaling-stroke"/><circle cx="5.3" cy="9.3" r="4.4" fill="#d4d4d4"/><circle cx="12.7" cy="6.5" r="5.6" fill="#d4d4d4"/><circle cx="20.0" cy="10.3" r="3.5" fill="#d4d4d4"/><rect x="5.3" y="9.3" width="14.7" height="4.45" fill="#d4d4d4"/><path d="M 13.6 9.6 Q 15.6 5.7 19.6 6.9" fill="none" stroke="#2f5079" stroke-width="1.7" vector-effect="non-scaling-stroke" stroke-linecap="round"/></g></g>
<g transform="translate(559.30,97.0)"><path d="M 5.3 3.6 A 13 13 0 1 0 4.9 29.6 A 19.1 19.1 0 0 1 5.3 3.6 Z" fill="none" stroke="#000" stroke-width="1.6" stroke-linejoin="round"/><rect x="-17.9" y="18.00" width="36.70" height="1.4" fill="#2b4f7e"/><rect x="-16.4" y="21.40" width="34.00" height="1.4" fill="#2b4f7e"/><rect x="-14.8" y="25.10" width="31.50" height="2.8" fill="#2b4f7e"/></g>
<g transform="translate(593.86,97.0)"><line x1="1.78" y1="7.08" x2="2.82" y2="2.19" stroke="#e9d43a" stroke-width="2.6"/><line x1="1.78" y1="7.08" x2="2.82" y2="2.19" stroke="#f4e41c" stroke-width="1.8"/><line x1="6.89" y1="10.59" x2="11.09" y2="7.87" stroke="#e9d43a" stroke-width="2.6"/><line x1="6.89" y1="10.59" x2="11.09" y2="7.87" stroke="#f4e41c" stroke-width="1.8"/><line x1="8.02" y1="16.68" x2="12.91" y2="17.72" stroke="#e9d43a" stroke-width="2.6"/><line x1="8.02" y1="16.68" x2="12.91" y2="17.72" stroke="#f4e41c" stroke-width="1.8"/><line x1="4.51" y1="21.79" x2="7.23" y2="25.99" stroke="#e9d43a" stroke-width="2.6"/><line x1="4.51" y1="21.79" x2="7.23" y2="25.99" stroke="#f4e41c" stroke-width="1.8"/><line x1="-1.58" y1="22.92" x2="-2.62" y2="27.81" stroke="#e9d43a" stroke-width="2.6"/><line x1="-1.58" y1="22.92" x2="-2.62" y2="27.81" stroke="#f4e41c" stroke-width="1.8"/><line x1="-6.69" y1="19.41" x2="-10.89" y2="22.13" stroke="#e9d43a" stroke-width="2.6"/><line x1="-6.69" y1="19.41" x2="-10.89" y2="22.13" stroke="#f4e41c" stroke-width="1.8"/><line x1="-7.82" y1="13.32" x2="-12.71" y2="12.28" stroke="#e9d43a" stroke-width="2.6"/><line x1="-7.82" y1="13.32" x2="-12.71" y2="12.28" stroke="#f4e41c" stroke-width="1.8"/><line x1="-4.31" y1="8.21" x2="-7.03" y2="4.01" stroke="#e9d43a" stroke-width="2.6"/><line x1="-4.31" y1="8.21" x2="-7.03" y2="4.01" stroke="#f4e41c" stroke-width="1.8"/><circle cx="0.1" cy="15.0" r="6.9" fill="#f4e41c" stroke="#f0a830" stroke-width="0.9"/><rect x="-18.5" y="19.50" width="36.90" height="2.4" fill="#5a86c8"/><rect x="-16.9" y="23.20" width="34.00" height="1.8" fill="#5a86c8"/><rect x="-15.3" y="27.00" width="31.60" height="3.2" fill="#5a86c8"/></g>
<g transform="translate(628.42,97.0)"><line x1="-0.90" y1="8.57" x2="0.14" y2="3.68" stroke="#e9d43a" stroke-width="2.6"/><line x1="-0.90" y1="8.57" x2="0.14" y2="3.68" stroke="#f4e41c" stroke-width="1.8"/><line x1="3.96" y1="11.91" x2="8.15" y2="9.18" stroke="#e9d43a" stroke-width="2.6"/><line x1="3.96" y1="11.91" x2="8.15" y2="9.18" stroke="#f4e41c" stroke-width="1.8"/><line x1="5.03" y1="17.70" x2="9.92" y2="18.74" stroke="#e9d43a" stroke-width="2.6"/><line x1="5.03" y1="17.70" x2="9.92" y2="18.74" stroke="#f4e41c" stroke-width="1.8"/><line x1="1.69" y1="22.56" x2="4.42" y2="26.75" stroke="#e9d43a" stroke-width="2.6"/><line x1="1.69" y1="22.56" x2="4.42" y2="26.75" stroke="#f4e41c" stroke-width="1.8"/><line x1="-4.10" y1="23.63" x2="-5.14" y2="28.52" stroke="#e9d43a" stroke-width="2.6"/><line x1="-4.10" y1="23.63" x2="-5.14" y2="28.52" stroke="#f4e41c" stroke-width="1.8"/><line x1="-8.96" y1="20.29" x2="-13.15" y2="23.02" stroke="#e9d43a" stroke-width="2.6"/><line x1="-8.96" y1="20.29" x2="-13.15" y2="23.02" stroke="#f4e41c" stroke-width="1.8"/><line x1="-10.03" y1="14.50" x2="-14.92" y2="13.46" stroke="#e9d43a" stroke-width="2.6"/><line x1="-10.03" y1="14.50" x2="-14.92" y2="13.46" stroke="#f4e41c" stroke-width="1.8"/><line x1="-6.69" y1="9.64" x2="-9.42" y2="5.45" stroke="#e9d43a" stroke-width="2.6"/><line x1="-6.69" y1="9.64" x2="-9.42" y2="5.45" stroke="#f4e41c" stroke-width="1.8"/><circle cx="-2.5" cy="16.1" r="6.5" fill="#f4e41c" stroke="#f0a830" stroke-width="0.9"/><g transform="translate(-2.76,16.77) scale(0.6903,0.7704)"><circle cx="5.3" cy="9.3" r="4.4" fill="#2a5fbf" stroke="#2a5fbf" stroke-width="4.0" vector-effect="non-scaling-stroke"/><circle cx="12.7" cy="6.5" r="5.6" fill="#2a5fbf" stroke="#2a5fbf" stroke-width="4.0" vector-effect="non-scaling-stroke"/><circle cx="20.0" cy="10.3" r="3.5" fill="#2a5fbf" stroke="#2a5fbf" stroke-width="4.0" vector-effect="non-scaling-stroke"/><rect x="5.3" y="9.3" width="14.7" height="4.45" fill="#2a5fbf" stroke="#2a5fbf" stroke-width="4.0" vector-effect="non-scaling-stroke"/><circle cx="5.3" cy="9.3" r="4.4" fill="#ffffff"/><circle cx="12.7" cy="6.5" r="5.6" fill="#ffffff"/><circle cx="20.0" cy="10.3" r="3.5" fill="#ffffff"/><rect x="5.3" y="9.3" width="14.7" height="4.45" fill="#ffffff"/><path d="M 13.6 9.6 Q 15.6 5.7 19.6 6.9" fill="none" stroke="#2a5fbf" stroke-width="2.0" vector-effect="non-scaling-stroke" stroke-linecap="round"/></g></g>
<g transform="translate(662.98,97.0)"><path d="M -0.55 3.45 A 12.9 12.9 0 1 0 -1.7 29.2 A 17.56 17.56 0 0 1 -0.55 3.45 Z" fill="none" stroke="#000" stroke-width="1.6" stroke-linejoin="round"/><g transform="translate(-9.75,13.70) scale(1.0022,0.9961)"><circle cx="5.3" cy="9.3" r="4.4" fill="#2f5079" stroke="#2f5079" stroke-width="3.8" vector-effect="non-scaling-stroke"/><circle cx="12.7" cy="6.5" r="5.6" fill="#2f5079" stroke="#2f5079" stroke-width="3.8" vector-effect="non-scaling-stroke"/><circle cx="20.0" cy="10.3" r="3.5" fill="#2f5079" stroke="#2f5079" stroke-width="3.8" vector-effect="non-scaling-stroke"/><rect x="5.3" y="9.3" width="14.7" height="4.45" fill="#2f5079" stroke="#2f5079" stroke-width="3.8" vector-effect="non-scaling-stroke"/><circle cx="5.3" cy="9.3" r="4.4" fill="#d4d4d4"/><circle cx="12.7" cy="6.5" r="5.6" fill="#d4d4d4"/><circle cx="20.0" cy="10.3" r="3.5" fill="#d4d4d4"/><rect x="5.3" y="9.3" width="14.7" height="4.45" fill="#d4d4d4"/><path d="M 13.6 9.6 Q 15.6 5.7 19.6 6.9" fill="none" stroke="#2f5079" stroke-width="1.9" vector-effect="non-scaling-stroke" stroke-linecap="round"/></g></g>
<g transform="translate(697.54,97.0)"><path d="M 3.1 3.8 A 12.74 12.74 0 1 0 3.1 29.2 A 19.83 19.83 0 0 1 3.1 3.8 Z" fill="none" stroke="#000" stroke-width="1.7" stroke-linejoin="round"/><g transform="translate(-4.81,17.46) scale(0.6903,0.7315)"><circle cx="5.3" cy="9.3" r="4.4" fill="#2f5079" stroke="#2f5079" stroke-width="3.4" vector-effect="non-scaling-stroke"/><circle cx="12.7" cy="6.5" r="5.6" fill="#2f5079" stroke="#2f5079" stroke-width="3.4" vector-effect="non-scaling-stroke"/><circle cx="20.0" cy="10.3" r="3.5" fill="#2f5079" stroke="#2f5079" stroke-width="3.4" vector-effect="non-scaling-stroke"/><rect x="5.3" y="9.3" width="14.7" height="4.45" fill="#2f5079" stroke="#2f5079" stroke-width="3.4" vector-effect="non-scaling-stroke"/><circle cx="5.3" cy="9.3" r="4.4" fill="#d4d4d4"/><circle cx="12.7" cy="6.5" r="5.6" fill="#d4d4d4"/><circle cx="20.0" cy="10.3" r="3.5" fill="#d4d4d4"/><rect x="5.3" y="9.3" width="14.7" height="4.45" fill="#d4d4d4"/><path d="M 13.6 9.6 Q 15.6 5.7 19.6 6.9" fill="none" stroke="#2f5079" stroke-width="1.7" vector-effect="non-scaling-stroke" stroke-linecap="round"/></g></g>
<g transform="translate(732.10,97.0)"><line x1="-0.90" y1="8.57" x2="0.14" y2="3.68" stroke="#e9d43a" stroke-width="2.6"/><line x1="-0.90" y1="8.57" x2="0.14" y2="3.68" stroke="#f4e41c" stroke-width="1.8"/><line x1="3.96" y1="11.91" x2="8.15" y2="9.18" stroke="#e9d43a" stroke-width="2.6"/><line x1="3.96" y1="11.91" x2="8.15" y2="9.18" stroke="#f4e41c" stroke-width="1.8"/><line x1="5.03" y1="17.70" x2="9.92" y2="18.74" stroke="#e9d43a" stroke-width="2.6"/><line x1="5.03" y1="17.70" x2="9.92" y2="18.74" stroke="#f4e41c" stroke-width="1.8"/><line x1="1.69" y1="22.56" x2="4.42" y2="26.75" stroke="#e9d43a" stroke-width="2.6"/><line x1="1.69" y1="22.56" x2="4.42" y2="26.75" stroke="#f4e41c" stroke-width="1.8"/><line x1="-4.10" y1="23.63" x2="-5.14" y2="28.52" stroke="#e9d43a" stroke-width="2.6"/><line x1="-4.10" y1="23.63" x2="-5.14" y2="28.52" stroke="#f4e41c" stroke-width="1.8"/><line x1="-8.96" y1="20.29" x2="-13.15" y2="23.02" stroke="#e9d43a" stroke-width="2.6"/><line x1="-8.96" y1="20.29" x2="-13.15" y2="23.02" stroke="#f4e41c" stroke-width="1.8"/><line x1="-10.03" y1="14.50" x2="-14.92" y2="13.46" stroke="#e9d43a" stroke-width="2.6"/><line x1="-10.03" y1="14.50" x2="-14.92" y2="13.46" stroke="#f4e41c" stroke-width="1.8"/><line x1="-6.69" y1="9.64" x2="-9.42" y2="5.45" stroke="#e9d43a" stroke-width="2.6"/><line x1="-6.69" y1="9.64" x2="-9.42" y2="5.45" stroke="#f4e41c" stroke-width="1.8"/><circle cx="-2.5" cy="16.1" r="6.5" fill="#f4e41c" stroke="#f0a830" stroke-width="0.9"/><g transform="translate(-2.76,16.77) scale(0.6903,0.7704)"><circle cx="5.3" cy="9.3" r="4.4" fill="#2a5fbf" stroke="#2a5fbf" stroke-width="4.0" vector-effect="non-scaling-stroke"/><circle cx="12.7" cy="6.5" r="5.6" fill="#2a5fbf" stroke="#2a5fbf" stroke-width="4.0" vector-effect="non-scaling-stroke"/><circle cx="20.0" cy="10.3" r="3.5" fill="#2a5fbf" stroke="#2a5fbf" stroke-width="4.0" vector-effect="non-scaling-stroke"/><rect x="5.3" y="9.3" width="14.7" height="4.45" fill="#2a5fbf" stroke="#2a5fbf" stroke-width="4.0" vector-effect="non-scaling-stroke"/><circle cx="5.3" cy="9.3" r="4.4" fill="#ffffff"/><circle cx="12.7" cy="6.5" r="5.6" fill="#ffffff"/><circle cx="20.0" cy="10.3" r="3.5" fill="#ffffff"/><rect x="5.3" y="9.3" width="14.7" height="4.45" fill="#ffffff"/><path d="M 13.6 9.6 Q 15.6 5.7 19.6 6.9" fill="none" stroke="#2a5fbf" stroke-width="2.0" vector-effect="non-scaling-stroke" stroke-linecap="round"/></g></g>
<g transform="translate(766.66,97.0)"><g><circle cx="-11.3" cy="20.6" r="5.2" fill="#2a5fbf" stroke="#2a5fbf" stroke-width="3.8" vector-effect="non-scaling-stroke"/><circle cx="-1.2" cy="14.2" r="5.9" fill="#2a5fbf" stroke="#2a5fbf" stroke-width="3.8" vector-effect="non-scaling-stroke"/><circle cx="10.3" cy="17.7" r="6.0" fill="#2a5fbf" stroke="#2a5fbf" stroke-width="3.8" vector-effect="non-scaling-stroke"/><rect x="-11.3" y="17" width="21.6" height="8" fill="#2a5fbf" stroke="#2a5fbf" stroke-width="3.8" vector-effect="non-scaling-stroke"/><circle cx="-11.3" cy="20.6" r="5.2" fill="#d4d4d4"/><circle cx="-1.2" cy="14.2" r="5.9" fill="#d4d4d4"/><circle cx="10.3" cy="17.7" r="6.0" fill="#d4d4d4"/><rect x="-11.3" y="17" width="21.6" height="8" fill="#d4d4d4"/></g><g transform="translate(-8.82,13.49) scale(0.9204,1.0117)"><circle cx="5.3" cy="9.3" r="4.4" fill="#2a5fbf" stroke="#2a5fbf" stroke-width="3.8" vector-effect="non-scaling-stroke"/><circle cx="12.7" cy="6.5" r="5.6" fill="#2a5fbf" stroke="#2a5fbf" stroke-width="3.8" vector-effect="non-scaling-stroke"/><circle cx="20.0" cy="10.3" r="3.5" fill="#2a5fbf" stroke="#2a5fbf" stroke-width="3.8" vector-effect="non-scaling-stroke"/><rect x="5.3" y="9.3" width="14.7" height="4.45" fill="#2a5fbf" stroke="#2a5fbf" stroke-width="3.8" vector-effect="non-scaling-stroke"/><circle cx="5.3" cy="9.3" r="4.4" fill="#ffffff"/><circle cx="12.7" cy="6.5" r="5.6" fill="#ffffff"/><circle cx="20.0" cy="10.3" r="3.5" fill="#ffffff"/><rect x="5.3" y="9.3" width="14.7" height="4.45" fill="#ffffff"/><path d="M 13.6 9.6 Q 15.6 5.7 19.6 6.9" fill="none" stroke="#2a5fbf" stroke-width="1.9" vector-effect="non-scaling-stroke" stroke-linecap="round"/></g></g>
<g transform="translate(801.22,97.0)"><g><circle cx="-11.3" cy="20.6" r="5.2" fill="#2f5079" stroke="#2f5079" stroke-width="3.8" vector-effect="non-scaling-stroke"/><circle cx="-1.2" cy="14.2" r="5.9" fill="#2f5079" stroke="#2f5079" stroke-width="3.8" vector-effect="non-scaling-stroke"/><circle cx="10.3" cy="17.7" r="6.0" fill="#2f5079" stroke="#2f5079" stroke-width="3.8" vector-effect="non-scaling-stroke"/><rect x="-11.3" y="17" width="21.6" height="8" fill="#2f5079" stroke="#2f5079" stroke-width="3.8" vector-effect="non-scaling-stroke"/><circle cx="-11.3" cy="20.6" r="5.2" fill="#d4d4d4"/><circle cx="-1.2" cy="14.2" r="5.9" fill="#d4d4d4"/><circle cx="10.3" cy="17.7" r="6.0" fill="#d4d4d4"/><rect x="-11.3" y="17" width="21.6" height="8" fill="#d4d4d4"/></g><g transform="translate(-8.82,13.49) scale(0.9204,1.0117)"><circle cx="5.3" cy="9.3" r="4.4" fill="#2f5079" stroke="#2f5079" stroke-width="3.8" vector-effect="non-scaling-stroke"/><circle cx="12.7" cy="6.5" r="5.6" fill="#2f5079" stroke="#2f5079" stroke-width="3.8" vector-effect="non-scaling-stroke"/><circle cx="20.0" cy="10.3" r="3.5" fill="#2f5079" stroke="#2f5079" stroke-width="3.8" vector-effect="non-scaling-stroke"/><rect x="5.3" y="9.3" width="14.7" height="4.45" fill="#2f5079" stroke="#2f5079" stroke-width="3.8" vector-effect="non-scaling-stroke"/><circle cx="5.3" cy="9.3" r="4.4" fill="#ffffff"/><circle cx="12.7" cy="6.5" r="5.6" fill="#ffffff"/><circle cx="20.0" cy="10.3" r="3.5" fill="#ffffff"/><rect x="5.3" y="9.3" width="14.7" height="4.45" fill="#ffffff"/><path d="M 13.6 9.6 Q 15.6 5.7 19.6 6.9" fill="none" stroke="#2f5079" stroke-width="1.9" vector-effect="non-scaling-stroke" stroke-linecap="round"/></g></g>
<g transform="translate(835.78,97.0)"><path d="M 3.1 3.8 A 12.74 12.74 0 1 0 3.1 29.2 A 19.83 19.83 0 0 1 3.1 3.8 Z" fill="none" stroke="#000" stroke-width="1.7" stroke-linejoin="round"/><g transform="translate(-4.81,17.46) scale(0.6903,0.7315)"><circle cx="5.3" cy="9.3" r="4.4" fill="#2f5079" stroke="#2f5079" stroke-width="3.4" vector-effect="non-scaling-stroke"/><circle cx="12.7" cy="6.5" r="5.6" fill="#2f5079" stroke="#2f5079" stroke-width="3.4" vector-effect="non-scaling-stroke"/><circle cx="20.0" cy="10.3" r="3.5" fill="#2f5079" stroke="#2f5079" stroke-width="3.4" vector-effect="non-scaling-stroke"/><rect x="5.3" y="9.3" width="14.7" height="4.45" fill="#2f5079" stroke="#2f5079" stroke-width="3.4" vector-effect="non-scaling-stroke"/><circle cx="5.3" cy="9.3" r="4.4" fill="#d4d4d4"/><circle cx="12.7" cy="6.5" r="5.6" fill="#d4d4d4"/><circle cx="20.0" cy="10.3" r="3.5" fill="#d4d4d4"/><rect x="5.3" y="9.3" width="14.7" height="4.45" fill="#d4d4d4"/><path d="M 13.6 9.6 Q 15.6 5.7 19.6 6.9" fill="none" stroke="#2f5079" stroke-width="1.7" vector-effect="non-scaling-stroke" stroke-linecap="round"/></g></g>
<g transform="translate(870.34,97.0)"><line x1="4.76" y1="8.06" x2="5.80" y2="3.17" stroke="#e9d43a" stroke-width="2.6"/><line x1="4.76" y1="8.06" x2="5.80" y2="3.17" stroke="#f4e41c" stroke-width="1.8"/><line x1="9.49" y1="11.32" x2="13.68" y2="8.59" stroke="#e9d43a" stroke-width="2.6"/><line x1="9.49" y1="11.32" x2="13.68" y2="8.59" stroke="#f4e41c" stroke-width="1.8"/><line x1="10.54" y1="16.96" x2="15.43" y2="18.00" stroke="#e9d43a" stroke-width="2.6"/><line x1="10.54" y1="16.96" x2="15.43" y2="18.00" stroke="#f4e41c" stroke-width="1.8"/><line x1="7.28" y1="21.69" x2="10.01" y2="25.88" stroke="#e9d43a" stroke-width="2.6"/><line x1="7.28" y1="21.69" x2="10.01" y2="25.88" stroke="#f4e41c" stroke-width="1.8"/><line x1="1.64" y1="22.74" x2="0.60" y2="27.63" stroke="#e9d43a" stroke-width="2.6"/><line x1="1.64" y1="22.74" x2="0.60" y2="27.63" stroke="#f4e41c" stroke-width="1.8"/><line x1="-3.09" y1="19.48" x2="-7.28" y2="22.21" stroke="#e9d43a" stroke-width="2.6"/><line x1="-3.09" y1="19.48" x2="-7.28" y2="22.21" stroke="#f4e41c" stroke-width="1.8"/><line x1="-4.14" y1="13.84" x2="-9.03" y2="12.80" stroke="#e9d43a" stroke-width="2.6"/><line x1="-4.14" y1="13.84" x2="-9.03" y2="12.80" stroke="#f4e41c" stroke-width="1.8"/><line x1="-0.88" y1="9.11" x2="-3.61" y2="4.92" stroke="#e9d43a" stroke-width="2.6"/><line x1="-0.88" y1="9.11" x2="-3.61" y2="4.92" stroke="#f4e41c" stroke-width="1.8"/><circle cx="3.2" cy="15.4" r="6.3" fill="#f4e41c" stroke="#f0a830" stroke-width="0.9"/><g transform="translate(-15.83,16.30) scale(0.8761,0.9494)"><circle cx="5.3" cy="9.3" r="4.4" fill="#2a5fbf" stroke="#2a5fbf" stroke-width="4.0" vector-effect="non-scaling-stroke"/><circle cx="12.7" cy="6.5" r="5.6" fill="#2a5fbf" stroke="#2a5fbf" stroke-width="4.0" vector-effect="non-scaling-stroke"/><circle cx="20.0" cy="10.3" r="3.5" fill="#2a5fbf" stroke="#2a5fbf" stroke-width="4.0" vector-effect="non-scaling-stroke"/><rect x="5.3" y="9.3" width="14.7" height="4.45" fill="#2a5fbf" stroke="#2a5fbf" stroke-width="4.0" vector-effect="non-scaling-stroke"/><circle cx="5.3" cy="9.3" r="4.4" fill="#d4d4d4"/><circle cx="12.7" cy="6.5" r="5.6" fill="#d4d4d4"/><circle cx="20.0" cy="10.3" r="3.5" fill="#d4d4d4"/><rect x="5.3" y="9.3" width="14.7" height="4.45" fill="#d4d4d4"/><path d="M 13.6 9.6 Q 15.6 5.7 19.6 6.9" fill="none" stroke="#2a5fbf" stroke-width="2.0" vector-effect="non-scaling-stroke" stroke-linecap="round"/></g></g>
<g transform="translate(904.90,97.0)"><line x1="4.76" y1="8.06" x2="5.80" y2="3.17" stroke="#e9d43a" stroke-width="2.6"/><line x1="4.76" y1="8.06" x2="5.80" y2="3.17" stroke="#f4e41c" stroke-width="1.8"/><line x1="9.49" y1="11.32" x2="13.68" y2="8.59" stroke="#e9d43a" stroke-width="2.6"/><line x1="9.49" y1="11.32" x2="13.68" y2="8.59" stroke="#f4e41c" stroke-width="1.8"/><line x1="10.54" y1="16.96" x2="15.43" y2="18.00" stroke="#e9d43a" stroke-width="2.6"/><line x1="10.54" y1="16.96" x2="15.43" y2="18.00" stroke="#f4e41c" stroke-width="1.8"/><line x1="7.28" y1="21.69" x2="10.01" y2="25.88" stroke="#e9d43a" stroke-width="2.6"/><line x1="7.28" y1="21.69" x2="10.01" y2="25.88" stroke="#f4e41c" stroke-width="1.8"/><line x1="1.64" y1="22.74" x2="0.60" y2="27.63" stroke="#e9d43a" stroke-width="2.6"/><line x1="1.64" y1="22.74" x2="0.60" y2="27.63" stroke="#f4e41c" stroke-width="1.8"/><line x1="-3.09" y1="19.48" x2="-7.28" y2="22.21" stroke="#e9d43a" stroke-width="2.6"/><line x1="-3.09" y1="19.48" x2="-7.28" y2="22.21" stroke="#f4e41c" stroke-width="1.8"/><line x1="-4.14" y1="13.84" x2="-9.03" y2="12.80" stroke="#e9d43a" stroke-width="2.6"/><line x1="-4.14" y1="13.84" x2="-9.03" y2="12.80" stroke="#f4e41c" stroke-width="1.8"/><line x1="-0.88" y1="9.11" x2="-3.61" y2="4.92" stroke="#e9d43a" stroke-width="2.6"/><line x1="-0.88" y1="9.11" x2="-3.61" y2="4.92" stroke="#f4e41c" stroke-width="1.8"/><circle cx="3.2" cy="15.4" r="6.3" fill="#f4e41c" stroke="#f0a830" stroke-width="0.9"/><g transform="translate(-15.83,16.30) scale(0.8761,0.9494)"><circle cx="5.3" cy="9.3" r="4.4" fill="#2a5fbf" stroke="#2a5fbf" stroke-width="4.0" vector-effect="non-scaling-stroke"/><circle cx="12.7" cy="6.5" r="5.6" fill="#2a5fbf" stroke="#2a5fbf" stroke-width="4.0" vector-effect="non-scaling-stroke"/><circle cx="20.0" cy="10.3" r="3.5" fill="#2a5fbf" stroke="#2a5fbf" stroke-width="4.0" vector-effect="non-scaling-stroke"/><rect x="5.3" y="9.3" width="14.7" height="4.45" fill="#2a5fbf" stroke="#2a5fbf" stroke-width="4.0" vector-effect="non-scaling-stroke"/><circle cx="5.3" cy="9.3" r="4.4" fill="#d4d4d4"/><circle cx="12.7" cy="6.5" r="5.6" fill="#d4d4d4"/><circle cx="20.0" cy="10.3" r="3.5" fill="#d4d4d4"/><rect x="5.3" y="9.3" width="14.7" height="4.45" fill="#d4d4d4"/><path d="M 13.6 9.6 Q 15.6 5.7 19.6 6.9" fill="none" stroke="#2a5fbf" stroke-width="2.0" vector-effect="non-scaling-stroke" stroke-linecap="round"/></g></g>
<g transform="translate(939.46,97.0)"><path d="M -0.55 3.45 A 12.9 12.9 0 1 0 -1.7 29.2 A 17.56 17.56 0 0 1 -0.55 3.45 Z" fill="none" stroke="#000" stroke-width="1.6" stroke-linejoin="round"/><g transform="translate(-9.75,13.70) scale(1.0022,0.9961)"><circle cx="5.3" cy="9.3" r="4.4" fill="#2f5079" stroke="#2f5079" stroke-width="3.8" vector-effect="non-scaling-stroke"/><circle cx="12.7" cy="6.5" r="5.6" fill="#2f5079" stroke="#2f5079" stroke-width="3.8" vector-effect="non-scaling-stroke"/><circle cx="20.0" cy="10.3" r="3.5" fill="#2f5079" stroke="#2f5079" stroke-width="3.8" vector-effect="non-scaling-stroke"/><rect x="5.3" y="9.3" width="14.7" height="4.45" fill="#2f5079" stroke="#2f5079" stroke-width="3.8" vector-effect="non-scaling-stroke"/><circle cx="5.3" cy="9.3" r="4.4" fill="#d4d4d4"/><circle cx="12.7" cy="6.5" r="5.6" fill="#d4d4d4"/><circle cx="20.0" cy="10.3" r="3.5" fill="#d4d4d4"/><rect x="5.3" y="9.3" width="14.7" height="4.45" fill="#d4d4d4"/><path d="M 13.6 9.6 Q 15.6 5.7 19.6 6.9" fill="none" stroke="#2f5079" stroke-width="1.9" vector-effect="non-scaling-stroke" stroke-linecap="round"/></g></g>
<g transform="translate(974.02,97.0)"><path d="M -0.55 3.45 A 12.9 12.9 0 1 0 -1.7 29.2 A 17.56 17.56 0 0 1 -0.55 3.45 Z" fill="none" stroke="#000" stroke-width="1.6" stroke-linejoin="round"/><g transform="translate(-9.75,13.70) scale(1.0022,0.9961)"><circle cx="5.3" cy="9.3" r="4.4" fill="#2f5079" stroke="#2f5079" stroke-width="3.8" vector-effect="non-scaling-stroke"/><circle cx="12.7" cy="6.5" r="5.6" fill="#2f5079" stroke="#2f5079" stroke-width="3.8" vector-effect="non-scaling-stroke"/><circle cx="20.0" cy="10.3" r="3.5" fill="#2f5079" stroke="#2f5079" stroke-width="3.8" vector-effect="non-scaling-stroke"/><rect x="5.3" y="9.3" width="14.7" height="4.45" fill="#2f5079" stroke="#2f5079" stroke-width="3.8" vector-effect="non-scaling-stroke"/><circle cx="5.3" cy="9.3" r="4.4" fill="#d4d4d4"/><circle cx="12.7" cy="6.5" r="5.6" fill="#d4d4d4"/><circle cx="20.0" cy="10.3" r="3.5" fill="#d4d4d4"/><rect x="5.3" y="9.3" width="14.7" height="4.45" fill="#d4d4d4"/><path d="M 13.6 9.6 Q 15.6 5.7 19.6 6.9" fill="none" stroke="#2f5079" stroke-width="1.9" vector-effect="non-scaling-stroke" stroke-linecap="round"/></g></g>
<g transform="translate(1008.58,97.0)"><line x1="-0.90" y1="8.57" x2="0.14" y2="3.68" stroke="#e9d43a" stroke-width="2.6"/><line x1="-0.90" y1="8.57" x2="0.14" y2="3.68" stroke="#f4e41c" stroke-width="1.8"/><line x1="3.96" y1="11.91" x2="8.15" y2="9.18" stroke="#e9d43a" stroke-width="2.6"/><line x1="3.96" y1="11.91" x2="8.15" y2="9.18" stroke="#f4e41c" stroke-width="1.8"/><line x1="5.03" y1="17.70" x2="9.92" y2="18.74" stroke="#e9d43a" stroke-width="2.6"/><line x1="5.03" y1="17.70" x2="9.92" y2="18.74" stroke="#f4e41c" stroke-width="1.8"/><line x1="1.69" y1="22.56" x2="4.42" y2="26.75" stroke="#e9d43a" stroke-width="2.6"/><line x1="1.69" y1="22.56" x2="4.42" y2="26.75" stroke="#f4e41c" stroke-width="1.8"/><line x1="-4.10" y1="23.63" x2="-5.14" y2="28.52" stroke="#e9d43a" stroke-width="2.6"/><line x1="-4.10" y1="23.63" x2="-5.14" y2="28.52" stroke="#f4e41c" stroke-width="1.8"/><line x1="-8.96" y1="20.29" x2="-13.15" y2="23.02" stroke="#e9d43a" stroke-width="2.6"/><line x1="-8.96" y1="20.29" x2="-13.15" y2="23.02" stroke="#f4e41c" stroke-width="1.8"/><line x1="-10.03" y1="14.50" x2="-14.92" y2="13.46" stroke="#e9d43a" stroke-width="2.6"/><line x1="-10.03" y1="14.50" x2="-14.92" y2="13.46" stroke="#f4e41c" stroke-width="1.8"/><line x1="-6.69" y1="9.64" x2="-9.42" y2="5.45" stroke="#e9d43a" stroke-width="2.6"/><line x1="-6.69" y1="9.64" x2="-9.42" y2="5.45" stroke="#f4e41c" stroke-width="1.8"/><circle cx="-2.5" cy="16.1" r="6.5" fill="#f4e41c" stroke="#f0a830" stroke-width="0.9"/><g transform="translate(-2.76,16.77) scale(0.6903,0.7704)"><circle cx="5.3" cy="9.3" r="4.4" fill="#2a5fbf" stroke="#2a5fbf" stroke-width="4.0" vector-effect="non-scaling-stroke"/><circle cx="12.7" cy="6.5" r="5.6" fill="#2a5fbf" stroke="#2a5fbf" stroke-width="4.0" vector-effect="non-scaling-stroke"/><circle cx="20.0" cy="10.3" r="3.5" fill="#2a5fbf" stroke="#2a5fbf" stroke-width="4.0" vector-effect="non-scaling-stroke"/><rect x="5.3" y="9.3" width="14.7" height="4.45" fill="#2a5fbf" stroke="#2a5fbf" stroke-width="4.0" vector-effect="non-scaling-stroke"/><circle cx="5.3" cy="9.3" r="4.4" fill="#ffffff"/><circle cx="12.7" cy="6.5" r="5.6" fill="#ffffff"/><circle cx="20.0" cy="10.3" r="3.5" fill="#ffffff"/><rect x="5.3" y="9.3" width="14.7" height="4.45" fill="#ffffff"/><path d="M 13.6 9.6 Q 15.6 5.7 19.6 6.9" fill="none" stroke="#2a5fbf" stroke-width="2.0" vector-effect="non-scaling-stroke" stroke-linecap="round"/></g></g>
<g transform="translate(1043.14,97.0)"><line x1="1.10" y1="8.67" x2="2.14" y2="3.78" stroke="#e9d43a" stroke-width="2.6"/><line x1="1.10" y1="8.67" x2="2.14" y2="3.78" stroke="#f4e41c" stroke-width="1.8"/><line x1="5.96" y1="12.01" x2="10.15" y2="9.28" stroke="#e9d43a" stroke-width="2.6"/><line x1="5.96" y1="12.01" x2="10.15" y2="9.28" stroke="#f4e41c" stroke-width="1.8"/><line x1="7.03" y1="17.80" x2="11.92" y2="18.84" stroke="#e9d43a" stroke-width="2.6"/><line x1="7.03" y1="17.80" x2="11.92" y2="18.84" stroke="#f4e41c" stroke-width="1.8"/><line x1="3.69" y1="22.66" x2="6.42" y2="26.85" stroke="#e9d43a" stroke-width="2.6"/><line x1="3.69" y1="22.66" x2="6.42" y2="26.85" stroke="#f4e41c" stroke-width="1.8"/><line x1="-2.10" y1="23.73" x2="-3.14" y2="28.62" stroke="#e9d43a" stroke-width="2.6"/><line x1="-2.10" y1="23.73" x2="-3.14" y2="28.62" stroke="#f4e41c" stroke-width="1.8"/><line x1="-6.96" y1="20.39" x2="-11.15" y2="23.12" stroke="#e9d43a" stroke-width="2.6"/><line x1="-6.96" y1="20.39" x2="-11.15" y2="23.12" stroke="#f4e41c" stroke-width="1.8"/><line x1="-8.03" y1="14.60" x2="-12.92" y2="13.56" stroke="#e9d43a" stroke-width="2.6"/><line x1="-8.03" y1="14.60" x2="-12.92" y2="13.56" stroke="#f4e41c" stroke-width="1.8"/><line x1="-4.69" y1="9.74" x2="-7.42" y2="5.55" stroke="#e9d43a" stroke-width="2.6"/><line x1="-4.69" y1="9.74" x2="-7.42" y2="5.55" stroke="#f4e41c" stroke-width="1.8"/><circle cx="-0.5" cy="16.2" r="6.5" fill="#f4e41c" stroke="#f0a830" stroke-width="0.9"/></g>
<g transform="translate(1077.70,97.0)"><path d="M 3.1 3.8 A 12.74 12.74 0 1 0 3.1 29.2 A 19.83 19.83 0 0 1 3.1 3.8 Z" fill="none" stroke="#000" stroke-width="1.7" stroke-linejoin="round"/><g transform="translate(-4.81,17.46) scale(0.6903,0.7315)"><circle cx="5.3" cy="9.3" r="4.4" fill="#2f5079" stroke="#2f5079" stroke-width="3.4" vector-effect="non-scaling-stroke"/><circle cx="12.7" cy="6.5" r="5.6" fill="#2f5079" stroke="#2f5079" stroke-width="3.4" vector-effect="non-scaling-stroke"/><circle cx="20.0" cy="10.3" r="3.5" fill="#2f5079" stroke="#2f5079" stroke-width="3.4" vector-effect="non-scaling-stroke"/><rect x="5.3" y="9.3" width="14.7" height="4.45" fill="#2f5079" stroke="#2f5079" stroke-width="3.4" vector-effect="non-scaling-stroke"/><circle cx="5.3" cy="9.3" r="4.4" fill="#d4d4d4"/><circle cx="12.7" cy="6.5" r="5.6" fill="#d4d4d4"/><circle cx="20.0" cy="10.3" r="3.5" fill="#d4d4d4"/><rect x="5.3" y="9.3" width="14.7" height="4.45" fill="#d4d4d4"/><path d="M 13.6 9.6 Q 15.6 5.7 19.6 6.9" fill="none" stroke="#2f5079" stroke-width="1.7" vector-effect="non-scaling-stroke" stroke-linecap="round"/></g></g>
<g stroke="#000" fill="none" stroke-width="2">
<circle cx="126.80" cy="152.9" r="3.65" stroke-width="2.0"/>
<circle cx="144.08" cy="152.9" r="3.65" stroke-width="2.0"/>
<circle cx="161.36" cy="152.9" r="3.65" stroke-width="2.0"/>
<circle cx="178.64" cy="152.9" r="3.65" stroke-width="2.0"/>
<circle cx="195.92" cy="152.9" r="3.65" stroke-width="2.0"/>
<circle cx="213.20" cy="152.9" r="3.65" stroke-width="2.0"/>
<circle cx="230.48" cy="152.9" r="3.65" stroke-width="2.0"/>
<circle cx="247.76" cy="152.9" r="3.65" stroke-width="2.0"/>
<circle cx="265.04" cy="152.9" r="3.65" stroke-width="2.0"/>
<circle cx="282.32" cy="152.9" r="3.65" stroke-width="2.0"/>
<circle cx="299.60" cy="152.9" r="3.65" stroke-width="2.0"/>
<circle cx="316.88" cy="152.9" r="3.65" stroke-width="2.0"/>
<circle cx="334.16" cy="152.9" r="3.65" stroke-width="2.0"/>
<circle cx="351.44" cy="152.9" r="3.65" stroke-width="2.0"/>
<circle cx="368.72" cy="152.9" r="3.65" stroke-width="2.0"/>
<circle cx="386.00" cy="152.9" r="3.65" stroke-width="2.0"/>
<path d="M400.40 164.55L406.16 141.25M405.32 144.65L410.85 145.19"/>
<circle cx="420.56" cy="152.9" r="3.65" stroke-width="2.0"/>
<circle cx="437.84" cy="152.9" r="3.65" stroke-width="2.0"/>
<circle cx="455.12" cy="152.9" r="3.65" stroke-width="2.0"/>
<circle cx="472.40" cy="152.9" r="3.65" stroke-width="2.0"/>
<path d="M477.69 152.30L501.67 153.50M498.17 153.32L498.69 158.86"/>
<path d="M495.47 156.37L518.45 149.43M515.10 150.44L517.45 155.48"/>
<path d="M519.80 164.05L528.68 141.75M527.38 145.00L532.79 146.29"/>
<path d="M536.74 163.90L546.30 141.90M544.91 145.10L550.27 146.56"/>
<path d="M557.12 164.78L560.48 141.02M559.99 144.48L565.55 144.46"/>
<circle cx="576.08" cy="152.9" r="3.65" stroke-width="2.0"/>
<circle cx="593.36" cy="152.9" r="3.65" stroke-width="2.0"/>
<path d="M598.65 152.42L622.63 153.38M619.13 153.24L619.71 158.77"/>
<path d="M615.93 152.54L639.91 153.26M636.42 153.15L637.05 158.68"/>
<path d="M635.70 160.23L654.70 145.57M651.93 147.71L655.92 151.57"/>
<path d="M659.71 164.58L665.25 141.22M664.44 144.63L669.98 145.12"/>
<path d="M676.77 164.52L682.75 141.28M681.88 144.67L687.41 145.27"/>
<circle cx="697.04" cy="152.9" r="3.65" stroke-width="2.0"/>
<circle cx="714.32" cy="152.9" r="3.65" stroke-width="2.0"/>
<circle cx="731.60" cy="152.9" r="3.65" stroke-width="2.0"/>
<path d="M738.42 158.79L759.34 147.01M756.29 148.73L759.68 153.13"/>
<path d="M755.33 158.07L776.99 147.73M773.83 149.24L776.92 153.85"/>
<path d="M775.39 161.80L791.49 144.00M789.14 146.60L793.76 149.70"/>
<path d="M800.72 164.90L800.72 140.90M800.72 144.40L806.22 143.60"/>
<path d="M818.00 164.90L818.00 140.90M818.00 144.40L823.50 143.60"/>
<path d="M838.16 164.55L832.40 141.25M833.24 144.65L838.39 142.55"/>
<path d="M856.03 164.39L849.09 141.41M850.10 144.76L855.14 142.41"/>
<circle cx="869.84" cy="152.9" r="3.65" stroke-width="2.0"/>
<circle cx="887.12" cy="152.9" r="3.65" stroke-width="2.0"/>
<path d="M896.60 162.02L912.20 143.78M909.92 146.44L914.62 149.41"/>
<path d="M912.78 160.95L930.58 144.85M927.98 147.20L932.27 150.74"/>
<path d="M931.76 162.50L946.16 143.30M944.06 146.10L948.94 148.76"/>
<path d="M948.70 162.24L963.78 143.56M961.58 146.29L966.36 149.12"/>
<circle cx="973.52" cy="152.9" r="3.65" stroke-width="2.0"/>
<circle cx="990.80" cy="152.9" r="3.65" stroke-width="2.0"/>
<circle cx="1008.08" cy="152.9" r="3.65" stroke-width="2.0"/>
<path d="M1017.37 143.95L1033.35 161.85M1031.02 159.24L1027.45 163.50"/>
<path d="M1036.75 142.44L1048.53 163.36M1046.81 160.31L1042.41 163.70"/>
<path d="M1053.80 142.58L1066.04 163.22M1064.26 160.21L1059.93 163.70"/>
<circle cx="1077.20" cy="152.9" r="3.65" stroke-width="2.0"/>
<circle cx="1094.48" cy="152.9" r="3.65" stroke-width="2.0"/>
</g>
<rect x="127" y="390" width="32" height="11" fill="#0050ff"/>
<rect x="165" y="386" width="105" height="19.5" fill="#fff"/>
<text x="169.0" y="401.5" font-size="19.5" fill="#000" text-anchor="start">Dež</text>
<rect x="278" y="390" width="32" height="11" fill="#10d8c8"/>
<rect x="310" y="386" width="110" height="19.5" fill="#fff"/>
<text x="318.6" y="401.5" font-size="19.5" fill="#000" text-anchor="start">Možnost ploh</text>
<text x="499.5" y="402.5" font-size="16" fill="#0000f5" text-anchor="start">© vreme.us &amp; vreme.pro</text>
<rect x="760" y="386" width="180" height="19.5" fill="#fff"/>
<text x="759.3" y="401.5" font-size="19.4" fill="#000" text-anchor="start">Gostota oblakov (%)</text>
<rect x="949.0" y="385" width="29.2" height="13.4" fill="#d0d0d0"/>
<rect x="978.2" y="385" width="29.2" height="13.4" fill="#b0b0b0"/>
<rect x="1007.4" y="385" width="29.2" height="13.4" fill="#919191"/>
<rect x="1036.6" y="385" width="29.2" height="13.4" fill="#727272"/>
<rect x="1065.8" y="385" width="29.2" height="13.4" fill="#555555"/>
<rect x="949.5" y="385.5" width="145" height="12.8" fill="none" stroke="#222" stroke-width="1"/>
<text x="949.5" y="415.0" font-size="17" fill="#000" text-anchor="middle" textLength="21.2" lengthAdjust="spacingAndGlyphs">10</text>
<text x="978.7" y="415.0" font-size="17" fill="#000" text-anchor="middle" textLength="21.2" lengthAdjust="spacingAndGlyphs">25</text>
<text x="1007.9" y="415.0" font-size="17" fill="#000" text-anchor="middle" textLength="21.2" lengthAdjust="spacingAndGlyphs">50</text>
<text x="1037.1" y="415.0" font-size="17" fill="#000" text-anchor="middle" textLength="21.2" lengthAdjust="spacingAndGlyphs">75</text>
<text x="1066.3" y="415.0" font-size="17" fill="#000" text-anchor="middle" textLength="21.2" lengthAdjust="spacingAndGlyphs">90</text>
<text x="1095.5" y="415.0" font-size="17" fill="#000" text-anchor="middle" textLength="31.799999999999997" lengthAdjust="spacingAndGlyphs">100</text>
<text x="9.5" y="21.0" font-size="16" fill="#0000f5" text-anchor="start">(kraj lahko izberete v meniju)</text>
<text x="399.5" y="36.7" font-size="24" fill="#0000f5" text-anchor="start">Zagreb 7 dni</text>
<text x="860.0" y="21.5" font-size="16" fill="#0000f5" text-anchor="start">Zadnja posodobitev: 13.10.2025 - 16:09</text>
</svg>
</body></html>
